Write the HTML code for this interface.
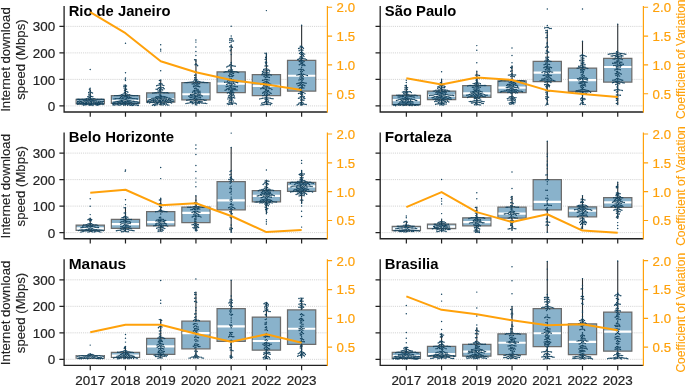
<!DOCTYPE html>
<html><head><meta charset="utf-8"><title>chart</title>
<style>
html,body{margin:0;padding:0;background:#fff;}
body{width:685px;height:385px;overflow:hidden;font-family:"Liberation Sans",sans-serif;}
svg{display:block;will-change:transform;}
</style></head><body>
<svg width="685" height="385" viewBox="0 0 685 385" font-family="Liberation Sans, sans-serif">
<rect width="685" height="385" fill="#fff"/>
<g>
<path d="M64.1 105.90H327.4M64.1 79.40H327.4M64.1 52.89H327.4M64.1 26.39H327.4" stroke="#c9c9c9" stroke-width="0.8" stroke-dasharray="1.1 1.0" fill="none"/>
<path d="M76.15 99.35H104.35V103.80H76.15ZM111.38 95.64H139.58V103.40H111.38ZM146.61 92.79H174.81V102.00H146.61ZM181.84 82.62H210.04V99.83H181.84ZM217.07 71.77H245.27V92.68H217.07ZM252.30 74.68H280.50V95.59H252.30ZM287.53 60.39H315.73V91.09H287.53Z" fill="#89b2cb" stroke="#6c6c6c" stroke-width="1.25"/>
<path d="M90.25 99.35V89.24M90.25 103.80V105.39M125.48 95.64V85.00M125.48 103.40V105.39M160.71 92.79V79.97M160.71 102.00V105.39M195.94 82.62V59.59M195.94 99.83V104.86M231.17 71.77V45.03M231.17 92.68V104.59M266.40 74.68V53.24M266.40 95.59V105.12M301.63 60.39V25.18M301.63 91.09V105.25" stroke="#2a2f33" stroke-width="1.1" fill="none"/>
<path d="M76.65 101.79H103.85M111.88 100.75H139.08M147.11 99.30H174.31M182.34 94.27H209.54M217.57 83.68H244.77M252.80 85.80H280.00M288.03 75.74H315.23" stroke="#fff" stroke-width="2.2" fill="none"/>
<path d="M90.2 69.4h0M90.2 88.2h0M89.4 89.2h0M90.2 90.5h0M90.0 91.8h0M91.2 92.4h0M88.7 92.4h0M92.5 93.0h0M90.2 94.0h0M88.9 94.3h0M90.2 95.8h0M88.9 96.0h0M91.4 96.5h0M92.8 96.7h0M87.8 96.8h0M90.2 97.3h0M89.0 97.8h0M90.7 98.6h0M92.0 98.6h0M88.0 98.7h0M93.4 98.8h0M86.6 98.8h0M94.8 98.8h0M85.2 98.9h0M89.4 99.1h0M96.1 99.2h0M83.9 99.3h0M97.5 99.3h0M82.6 99.3h0M98.9 99.3h0M81.2 99.3h0M100.2 99.3h0M79.8 99.3h0M101.6 99.3h0M78.4 99.3h0M103.0 99.3h0M77.1 99.3h0M103.4 99.4h0M89.3 99.4h0M89.8 99.5h0M79.2 99.7h0M79.7 99.7h0M86.1 99.7h0M91.3 99.8h0M92.7 99.9h0M84.0 99.9h0M88.4 100.1h0M90.1 100.3h0M87.1 100.4h0M93.9 100.6h0M85.7 100.7h0M95.2 100.8h0M84.4 100.9h0M96.6 100.9h0M91.9 101.0h0M83.0 101.0h0M98.0 101.1h0M81.6 101.1h0M99.3 101.1h0M89.1 101.3h0M80.3 101.3h0M100.7 101.4h0M78.9 101.4h0M102.1 101.4h0M77.5 101.4h0M103.5 101.5h0M99.0 101.5h0M90.6 101.6h0M87.8 101.6h0M81.2 101.6h0M93.1 101.7h0M77.6 101.7h0M102.2 101.8h0M91.0 101.8h0M86.4 101.9h0M94.4 101.9h0M85.1 102.1h0M95.8 102.2h0M91.7 102.4h0M83.7 102.4h0M97.1 102.5h0M82.3 102.5h0M98.5 102.5h0M89.9 102.7h0M81.0 102.7h0M88.5 102.8h0M99.8 102.8h0M79.6 102.8h0M101.2 102.8h0M78.2 102.9h0M93.4 103.0h0M102.6 103.0h0M76.9 103.0h0M80.8 103.0h0M87.1 103.0h0M91.4 103.2h0M77.7 103.2h0M94.9 103.2h0M85.8 103.2h0M91.0 103.2h0M103.0 103.2h0M99.9 103.3h0M95.5 103.4h0M83.9 103.4h0M86.7 103.4h0M91.0 103.5h0M96.2 103.6h0M81.4 103.6h0M84.5 103.7h0M83.1 103.8h0M92.3 103.9h0M97.6 103.9h0M81.7 103.9h0M99.0 103.9h0M97.5 103.9h0M89.2 103.9h0M91.1 103.9h0M80.4 103.9h0M100.5 104.0h0M97.7 104.0h0M79.0 104.0h0M85.7 104.0h0M82.9 104.1h0M101.8 104.1h0M77.7 104.2h0M87.9 104.3h0M93.8 104.3h0M103.2 104.3h0M86.5 104.4h0M98.5 104.4h0M103.1 104.4h0M99.6 104.5h0M98.4 104.5h0M95.2 104.6h0M98.7 104.6h0M96.6 104.7h0M90.3 104.7h0M83.0 104.7h0M90.7 104.8h0M85.3 104.8h0M86.4 104.8h0M91.7 105.1h0M96.4 105.1h0M83.9 105.2h0M89.1 105.3h0M97.8 105.3h0M93.0 105.4h0M125.5 43.2h0M125.5 72.8h0M125.5 77.9h0M125.2 79.2h0M125.5 80.5h0M125.5 85.0h0M124.1 85.3h0M126.5 85.9h0M125.2 86.4h0M123.8 86.6h0M125.5 87.8h0M124.1 88.1h0M125.2 89.1h0M126.6 89.3h0M124.5 90.3h0M125.5 91.4h0M126.9 91.5h0M124.4 92.2h0M127.9 92.3h0M125.5 93.6h0M124.1 93.6h0M126.8 94.0h0M122.9 94.2h0M128.0 94.6h0M129.4 94.6h0M121.6 94.6h0M125.1 94.8h0M130.7 95.1h0M120.3 95.2h0M126.3 95.4h0M123.8 95.4h0M119.0 95.5h0M132.0 95.5h0M133.3 95.6h0M117.6 95.6h0M134.7 95.6h0M116.2 95.6h0M136.1 95.6h0M122.5 95.6h0M114.8 95.6h0M137.5 95.6h0M127.5 96.0h0M128.9 96.0h0M125.2 96.2h0M121.4 96.4h0M126.4 96.9h0M124.1 97.0h0M122.7 97.1h0M129.6 97.2h0M127.7 97.4h0M120.6 97.5h0M130.9 97.6h0M125.5 98.1h0M123.8 98.3h0M128.6 98.3h0M122.3 98.4h0M119.5 98.4h0M126.8 98.5h0M132.0 98.5h0M130.0 98.6h0M118.1 98.6h0M133.3 98.6h0M116.8 98.6h0M134.7 98.6h0M115.4 98.8h0M136.1 98.8h0M121.0 98.9h0M114.0 99.0h0M137.4 99.0h0M125.5 99.6h0M124.1 99.8h0M126.8 99.9h0M122.8 100.2h0M128.1 100.2h0M121.5 100.5h0M129.4 100.7h0M130.8 100.7h0M120.1 100.8h0M125.5 101.2h0M124.1 101.2h0M132.1 101.2h0M127.2 101.2h0M118.8 101.2h0M133.5 101.3h0M117.5 101.4h0M122.4 101.5h0M134.8 101.5h0M116.1 101.5h0M136.2 101.6h0M128.4 101.8h0M121.1 101.8h0M130.0 102.0h0M114.8 102.0h0M137.5 102.0h0M113.4 102.1h0M138.9 102.2h0M119.8 102.2h0M126.2 102.3h0M124.9 102.4h0M123.5 102.4h0M131.2 102.5h0M118.4 102.6h0M127.4 102.9h0M122.3 103.0h0M129.0 103.0h0M132.5 103.1h0M120.9 103.2h0M117.2 103.2h0M133.9 103.2h0M115.8 103.2h0M135.2 103.2h0M114.5 103.3h0M136.6 103.4h0M113.1 103.5h0M138.0 103.5h0M125.5 103.6h0M124.2 103.8h0M130.1 103.8h0M119.7 103.8h0M112.7 103.8h0M121.0 103.9h0M128.8 103.9h0M118.3 104.0h0M128.2 104.1h0M126.8 104.1h0M122.9 104.2h0M131.5 104.2h0M125.8 104.3h0M133.0 104.3h0M113.9 104.4h0M121.6 104.6h0M117.2 104.7h0M134.3 104.7h0M115.8 104.8h0M125.1 104.8h0M129.3 104.9h0M135.7 105.0h0M114.4 105.0h0M137.0 105.0h0M113.1 105.0h0M120.3 105.1h0M118.9 105.2h0M138.4 105.2h0M123.8 105.3h0M127.5 105.3h0M130.6 105.3h0M138.4 105.3h0M133.2 105.3h0M138.0 105.4h0M132.1 105.4h0M160.7 44.8h0M160.7 49.3h0M160.7 50.9h0M160.7 70.7h0M160.7 80.0h0M159.4 80.5h0M160.7 83.5h0M159.3 83.5h0M162.0 83.9h0M160.7 85.0h0M159.3 85.0h0M162.7 85.1h0M158.0 85.3h0M163.9 85.6h0M156.7 85.8h0M160.7 87.0h0M159.4 87.4h0M162.0 87.6h0M163.3 87.8h0M158.3 88.2h0M160.5 88.4h0M164.2 88.8h0M161.7 89.1h0M159.5 89.3h0M157.5 89.3h0M156.1 89.3h0M162.7 89.9h0M160.7 90.3h0M159.4 90.7h0M158.0 90.9h0M160.7 91.9h0M159.3 92.0h0M162.0 92.2h0M158.1 92.6h0M163.3 92.7h0M164.7 92.7h0M156.7 92.7h0M166.1 92.8h0M155.3 92.8h0M167.4 92.8h0M154.0 93.0h0M168.8 93.1h0M152.6 93.1h0M160.7 93.9h0M159.4 94.1h0M160.7 95.4h0M159.5 96.0h0M161.7 96.3h0M163.1 96.5h0M158.2 96.6h0M164.5 96.6h0M156.9 96.8h0M165.8 96.9h0M160.6 97.0h0M155.6 97.3h0M167.1 97.4h0M159.3 97.6h0M161.6 97.9h0M163.0 97.9h0M158.0 98.0h0M164.4 98.0h0M154.5 98.1h0M168.3 98.1h0M156.7 98.2h0M153.1 98.3h0M166.0 98.3h0M169.6 98.3h0M160.4 98.5h0M151.8 98.7h0M170.9 98.7h0M159.1 99.0h0M155.6 99.0h0M161.9 99.2h0M163.3 99.3h0M157.7 99.3h0M164.9 99.3h0M166.8 99.4h0M153.9 99.4h0M168.5 99.5h0M150.7 99.5h0M172.0 99.5h0M169.9 99.7h0M149.4 99.7h0M160.7 99.9h0M152.7 99.9h0M173.3 99.9h0M156.6 100.1h0M148.1 100.2h0M165.5 100.2h0M155.0 100.2h0M159.4 100.3h0M165.7 100.3h0M160.4 100.3h0M162.4 100.5h0M163.8 100.5h0M167.4 100.6h0M158.1 100.7h0M169.0 100.7h0M151.6 100.7h0M170.6 100.8h0M153.7 100.9h0M150.3 101.1h0M160.7 101.2h0M155.9 101.3h0M171.9 101.3h0M148.9 101.4h0M164.9 101.4h0M166.3 101.6h0M173.2 101.6h0M147.6 101.6h0M159.5 101.8h0M161.9 102.0h0M163.2 102.1h0M158.2 102.2h0M154.9 102.2h0M167.5 102.2h0M153.6 102.3h0M168.9 102.3h0M156.8 102.4h0M152.2 102.4h0M170.3 102.4h0M150.8 102.4h0M147.5 102.5h0M168.6 102.5h0M160.7 102.8h0M164.4 102.9h0M165.8 102.9h0M171.6 102.9h0M149.5 102.9h0M159.1 103.1h0M161.9 103.4h0M157.6 103.4h0M156.1 103.5h0M163.3 103.8h0M154.8 103.9h0M166.6 103.9h0M160.6 104.1h0M164.5 104.3h0M153.5 104.4h0M159.3 104.6h0M157.2 104.7h0M161.8 104.8h0M155.8 104.9h0M167.6 104.9h0M165.7 105.1h0M168.9 105.1h0M163.1 105.1h0M152.4 105.2h0M154.5 105.4h0M195.9 40.0h0M195.9 42.1h0M195.9 46.9h0M195.9 51.4h0M195.9 55.4h0M195.9 59.6h0M194.6 59.8h0M195.9 61.0h0M195.9 63.7h0M195.1 64.8h0M196.8 64.8h0M197.7 65.7h0M195.9 71.7h0M194.6 72.1h0M195.9 74.9h0M194.6 75.3h0M195.9 77.3h0M194.6 77.6h0M195.9 78.9h0M194.6 79.3h0M197.0 79.7h0M195.8 80.3h0M194.1 80.6h0M196.8 81.2h0M198.2 81.2h0M195.4 81.6h0M193.2 81.6h0M199.5 81.7h0M191.9 81.9h0M200.8 81.9h0M190.5 82.1h0M202.2 82.2h0M189.1 82.2h0M203.5 82.3h0M197.4 82.4h0M187.8 82.4h0M194.3 82.5h0M204.9 82.5h0M186.4 82.6h0M206.3 82.6h0M185.0 82.6h0M207.7 82.6h0M195.9 83.3h0M198.2 83.5h0M193.5 83.6h0M199.6 83.7h0M192.2 83.9h0M194.8 84.1h0M196.8 84.3h0M198.0 85.0h0M193.9 85.1h0M195.9 85.4h0M197.0 86.2h0M194.9 86.2h0M198.3 86.5h0M193.5 86.7h0M199.7 86.8h0M195.9 87.9h0M194.7 88.4h0M196.8 88.9h0M198.1 89.4h0M195.9 90.1h0M194.6 90.4h0M197.1 90.8h0M198.5 91.0h0M193.4 91.0h0M199.9 91.2h0M195.9 91.9h0M194.6 92.0h0M197.6 92.1h0M192.6 92.2h0M198.9 92.4h0M200.2 92.9h0M195.9 93.5h0M194.6 93.7h0M197.2 94.0h0M198.6 94.0h0M193.3 94.3h0M192.0 94.3h0M199.9 94.4h0M190.6 94.5h0M195.9 95.1h0M194.6 95.2h0M197.9 95.2h0M201.0 95.2h0M192.9 95.6h0M199.2 95.6h0M191.5 95.6h0M190.2 95.8h0M202.2 96.0h0M196.8 96.2h0M188.9 96.2h0M195.4 96.4h0M194.2 97.0h0M197.9 97.0h0M192.8 97.0h0M199.2 97.2h0M191.4 97.2h0M200.6 97.3h0M190.1 97.4h0M195.9 97.7h0M194.7 98.3h0M196.5 98.9h0M197.9 98.9h0M193.6 99.0h0M199.2 99.3h0M192.2 99.3h0M200.6 99.3h0M190.8 99.5h0M195.3 99.6h0M201.9 99.6h0M189.5 99.7h0M203.3 99.7h0M188.1 99.9h0M197.1 100.1h0M204.6 100.2h0M186.8 100.2h0M206.0 100.2h0M194.4 100.6h0M195.9 100.9h0M198.1 101.1h0M193.1 101.1h0M199.4 101.2h0M191.7 101.2h0M200.8 101.3h0M190.4 101.4h0M202.1 101.8h0M195.6 102.2h0M197.0 102.2h0M194.2 102.2h0M198.7 102.3h0M192.6 102.4h0M200.0 102.4h0M191.2 102.5h0M189.9 102.7h0M201.3 102.9h0M202.7 103.1h0M188.6 103.1h0M204.0 103.2h0M187.2 103.2h0M205.4 103.3h0M197.7 103.3h0M195.9 103.5h0M193.8 103.5h0M199.2 103.5h0M185.9 103.6h0M206.8 103.6h0M192.3 103.7h0M195.4 104.7h0M196.8 104.9h0M231.2 26.2h0M231.2 36.0h0M231.2 38.3h0M229.9 38.8h0M232.4 38.9h0M231.2 40.1h0M229.8 40.3h0M232.1 41.0h0M233.5 41.0h0M231.2 42.1h0M229.8 42.4h0M231.2 45.0h0M231.2 46.7h0M229.8 46.7h0M232.4 47.2h0M231.2 49.6h0M230.3 50.7h0M231.2 54.6h0M231.2 62.5h0M231.2 63.9h0M230.0 64.6h0M231.2 65.5h0M232.5 65.7h0M229.3 65.7h0M233.9 66.0h0M228.0 66.2h0M235.2 66.3h0M230.9 66.9h0M226.8 66.9h0M231.3 68.2h0M231.2 69.7h0M229.8 69.9h0M232.5 70.0h0M228.5 70.3h0M230.7 70.9h0M232.0 71.5h0M229.5 71.6h0M233.3 71.7h0M228.2 71.7h0M234.7 71.7h0M226.8 71.7h0M236.1 71.8h0M225.4 71.8h0M237.4 72.2h0M224.1 72.2h0M231.0 72.5h0M238.7 72.6h0M232.3 72.9h0M229.9 73.3h0M233.5 73.5h0M231.2 74.5h0M229.8 74.8h0M232.2 75.3h0M233.6 75.6h0M228.8 75.7h0M231.2 76.4h0M232.6 76.6h0M229.8 76.7h0M231.2 78.8h0M229.8 78.9h0M232.1 79.8h0M233.4 79.9h0M230.7 80.1h0M229.3 80.1h0M228.0 80.8h0M232.6 81.1h0M233.9 81.2h0M231.2 81.9h0M229.8 81.9h0M227.4 82.0h0M235.1 82.0h0M226.1 82.1h0M236.5 82.2h0M224.7 82.2h0M233.1 82.3h0M228.6 82.7h0M237.7 82.7h0M231.2 83.4h0M229.8 83.4h0M233.7 83.5h0M227.9 83.8h0M232.4 84.0h0M234.9 84.2h0M226.7 84.5h0M231.2 84.9h0M229.8 85.1h0M232.0 86.0h0M233.4 86.1h0M228.9 86.1h0M230.6 86.2h0M234.7 86.3h0M227.5 86.3h0M236.0 86.7h0M226.2 86.8h0M237.4 86.8h0M231.2 87.5h0M229.8 87.8h0M232.4 88.1h0M233.8 88.2h0M228.5 88.3h0M235.1 88.5h0M227.2 88.7h0M231.2 88.9h0M229.8 89.2h0M232.9 89.4h0M228.5 89.7h0M234.3 89.7h0M235.6 89.7h0M226.4 89.8h0M237.0 90.0h0M231.7 90.2h0M225.1 90.2h0M230.4 90.8h0M232.9 90.9h0M231.4 91.7h0M230.0 92.0h0M232.6 92.3h0M228.7 92.4h0M233.9 92.7h0M227.4 92.9h0M231.2 93.1h0M229.8 93.4h0M232.2 94.0h0M233.5 94.2h0M230.9 94.5h0M229.7 95.3h0M231.7 95.6h0M233.0 95.6h0M228.5 95.9h0M234.4 96.0h0M230.8 96.7h0M232.1 97.2h0M229.6 97.3h0M233.5 97.4h0M228.3 97.6h0M234.7 98.0h0M231.2 98.3h0M229.8 98.7h0M232.4 98.9h0M227.9 98.9h0M231.2 99.7h0M229.9 100.2h0M231.9 100.8h0M233.3 101.1h0M229.1 101.3h0M231.2 102.5h0M229.8 102.8h0M232.5 102.9h0M233.9 103.0h0M228.5 103.1h0M235.2 103.3h0M227.3 103.7h0M231.2 103.9h0M236.4 104.0h0M229.8 104.2h0M232.5 104.3h0M228.5 104.6h0M266.4 10.6h0M266.4 53.2h0M265.0 53.3h0M266.4 54.7h0M266.4 56.3h0M265.6 57.5h0M266.4 58.7h0M265.2 59.5h0M266.4 61.4h0M265.4 62.2h0M266.7 62.7h0M265.8 63.7h0M266.4 65.5h0M265.1 65.9h0M267.7 66.0h0M266.4 68.8h0M265.0 68.9h0M267.7 69.1h0M263.7 69.4h0M268.8 70.0h0M266.2 70.1h0M267.5 70.7h0M265.1 70.9h0M263.8 70.9h0M269.6 71.0h0M262.5 71.4h0M266.4 72.7h0M265.0 72.7h0M267.8 72.7h0M263.6 72.8h0M269.1 73.0h0M262.4 73.3h0M266.0 74.0h0M267.3 74.1h0M264.6 74.3h0M268.6 74.7h0M263.3 74.7h0M270.0 74.8h0M261.9 74.8h0M271.3 75.1h0M266.4 75.5h0M265.0 75.7h0M267.7 75.9h0M264.0 76.6h0M266.4 76.9h0M268.0 77.2h0M269.4 77.4h0M265.3 77.8h0M266.4 79.4h0M265.0 79.4h0M267.7 79.8h0M263.8 80.1h0M269.1 80.1h0M262.5 80.3h0M266.4 81.2h0M265.1 81.6h0M267.6 81.9h0M264.0 82.5h0M266.4 82.7h0M268.6 82.8h0M262.9 83.2h0M265.3 83.5h0M267.1 83.9h0M269.3 83.9h0M264.1 84.1h0M270.7 84.3h0M262.2 84.4h0M260.9 84.5h0M266.3 84.9h0M267.7 85.1h0M264.9 85.2h0M269.7 85.2h0M263.6 85.6h0M266.4 86.3h0M265.1 86.6h0M267.7 86.8h0M269.1 86.9h0M263.8 87.0h0M262.4 87.3h0M266.3 87.6h0M265.0 88.1h0M268.1 88.1h0M263.7 88.4h0M269.4 88.6h0M262.1 88.6h0M270.8 88.6h0M260.8 88.8h0M266.4 89.0h0M271.9 89.4h0M265.3 89.8h0M267.0 90.3h0M268.4 90.5h0M265.9 91.0h0M267.4 91.5h0M264.7 91.7h0M268.9 91.8h0M263.4 92.2h0M266.4 92.6h0M270.0 92.7h0M265.1 93.0h0M267.6 93.2h0M262.7 93.3h0M271.1 93.4h0M266.4 94.2h0M264.5 94.2h0M267.9 94.6h0M269.3 94.6h0M265.9 95.4h0M264.0 95.5h0M262.7 95.6h0M267.2 95.8h0M266.4 97.3h0M265.1 97.8h0M267.6 98.0h0M269.0 98.0h0M263.8 98.1h0M270.4 98.2h0M262.4 98.2h0M271.7 98.6h0M261.1 98.6h0M266.4 98.7h0M273.0 98.8h0M259.8 99.0h0M265.1 99.3h0M267.4 99.7h0M268.7 100.1h0M266.1 100.3h0M266.9 101.4h0M265.4 101.5h0M268.3 101.6h0M264.5 102.4h0M266.4 102.6h0M269.1 102.7h0M263.1 102.8h0M267.7 103.0h0M270.5 103.0h0M261.8 103.2h0M271.8 103.4h0M266.4 104.2h0M265.0 104.3h0M267.7 104.4h0M269.1 104.6h0M263.7 104.7h0M262.3 104.7h0M270.5 104.7h0M261.0 105.1h0M301.6 25.2h0M301.6 46.2h0M300.3 46.3h0M302.5 47.3h0M301.2 47.6h0M299.9 48.0h0M303.5 48.2h0M298.6 48.4h0M301.6 49.7h0M300.3 50.0h0M302.9 50.3h0M299.1 50.7h0M301.6 51.7h0M300.5 52.4h0M302.7 52.6h0M301.6 53.3h0M299.5 53.4h0M303.4 53.7h0M304.7 54.1h0M300.9 54.5h0M302.3 54.5h0M303.3 55.4h0M301.6 56.1h0M300.3 56.6h0M304.0 56.6h0M302.5 57.1h0M301.3 57.8h0M299.9 57.9h0M302.5 58.5h0M303.9 58.8h0M299.0 58.9h0M305.2 59.0h0M300.7 59.1h0M297.8 59.5h0M306.5 59.6h0M301.6 60.2h0M300.3 60.5h0M302.9 60.7h0M299.2 61.2h0M304.1 61.4h0M301.6 61.8h0M300.3 62.0h0M302.8 62.4h0M301.6 63.2h0M300.5 64.0h0M302.7 64.0h0M304.0 64.5h0M299.3 64.7h0M301.6 65.1h0M302.9 65.5h0M304.9 65.5h0M301.6 67.2h0M301.6 69.3h0M300.3 69.3h0M303.0 69.4h0M298.9 69.6h0M303.9 70.4h0M301.2 70.6h0M302.3 71.4h0M300.6 71.8h0M301.6 72.9h0M300.8 73.9h0M302.1 74.3h0M303.5 74.3h0M299.5 74.5h0M304.8 74.6h0M298.2 74.7h0M306.1 75.1h0M296.9 75.1h0M301.2 75.3h0M307.4 75.4h0M302.6 75.5h0M300.2 76.3h0M301.7 76.6h0M303.4 76.6h0M301.2 77.8h0M302.5 78.0h0M299.8 78.1h0M303.4 79.0h0M301.6 79.1h0M300.4 79.6h0M299.0 79.9h0M302.5 80.1h0M301.5 81.0h0M302.2 82.2h0M300.8 82.5h0M303.4 82.8h0M299.5 82.9h0M304.8 83.0h0M298.2 83.2h0M306.1 83.3h0M301.6 83.6h0M296.9 83.8h0M300.4 84.2h0M302.4 84.7h0M303.7 84.9h0M299.5 85.2h0M301.2 85.4h0M304.8 85.7h0M298.2 85.8h0M302.3 86.3h0M301.3 87.2h0M302.6 87.7h0M300.0 87.8h0M303.9 88.0h0M301.6 88.7h0M299.2 88.8h0M300.7 89.7h0M301.6 91.3h0M300.4 91.8h0M302.5 92.4h0M303.8 92.6h0M301.3 92.9h0M299.9 93.2h0M298.5 93.4h0M305.0 93.4h0M302.2 93.9h0M300.8 94.2h0M302.8 95.1h0M301.6 96.3h0M300.3 96.6h0M302.9 96.8h0M304.3 96.8h0M301.2 97.6h0M299.8 97.9h0M303.5 98.0h0M298.5 98.2h0M304.8 98.5h0M301.6 98.9h0M300.7 99.9h0M302.6 99.9h0M303.9 100.2h0M301.6 102.2h0M300.3 102.5h0M302.9 102.8h0M299.0 103.1h0M301.6 103.6h0M300.3 103.9h0M303.5 104.0h0M304.9 104.2h0M298.3 104.2h0M306.2 104.4h0M302.3 104.8h0M297.1 104.9h0M301.0 105.3h0" stroke="#13435f" stroke-width="1.45" stroke-linecap="round" fill="none"/>
<path d="M64.1 5.90V112.00H327.4" stroke="#222" stroke-width="1.33" fill="none" stroke-linejoin="miter"/>
<path d="M64.1 105.90h-4.7M64.1 79.40h-4.7M64.1 52.89h-4.7M64.1 26.39h-4.7M90.25 112.00v4.7M125.48 112.00v4.7M160.71 112.00v4.7M195.94 112.00v4.7M231.17 112.00v4.7M266.40 112.00v4.7M301.63 112.00v4.7" stroke="#222" stroke-width="1.2" fill="none"/>
<text x="55.2" y="111.00" font-size="13.7" fill="#222" stroke="#222" stroke-width="0.2" text-anchor="end" textLength="7.5" lengthAdjust="spacingAndGlyphs">0</text>
<text x="55.2" y="84.50" font-size="13.7" fill="#222" stroke="#222" stroke-width="0.2" text-anchor="end" textLength="22.4" lengthAdjust="spacingAndGlyphs">100</text>
<text x="55.2" y="57.99" font-size="13.7" fill="#222" stroke="#222" stroke-width="0.2" text-anchor="end" textLength="22.4" lengthAdjust="spacingAndGlyphs">200</text>
<text x="55.2" y="31.49" font-size="13.7" fill="#222" stroke="#222" stroke-width="0.2" text-anchor="end" textLength="22.4" lengthAdjust="spacingAndGlyphs">300</text>
<text transform="translate(10.1 59.55) rotate(-90)" font-size="13.15" fill="#222" stroke="#222" stroke-width="0.15" text-anchor="middle">Internet download</text>
<text transform="translate(25.3 59.55) rotate(-90)" font-size="13.15" fill="#222" stroke="#222" stroke-width="0.15" text-anchor="middle">speed (Mbps)</text>
<text x="68.7" y="15.65" font-size="15.2" font-weight="bold" fill="#000" textLength="101.8" lengthAdjust="spacingAndGlyphs">Rio de Janeiro</text>
<path d="M327.4 5.90V112.50M327.4 93.77h4.7M327.4 64.94h4.7M327.4 36.11h4.7M327.4 7.27h4.7" stroke="#ffa10a" stroke-width="1.2" fill="none"/>
<text x="336.6" y="98.62" font-size="13.7" fill="#ffa10a" stroke="#ffa10a" stroke-width="0.2" textLength="18.4" lengthAdjust="spacingAndGlyphs">0.5</text>
<text x="336.6" y="69.79" font-size="13.7" fill="#ffa10a" stroke="#ffa10a" stroke-width="0.2" textLength="18.4" lengthAdjust="spacingAndGlyphs">1.0</text>
<text x="336.6" y="40.96" font-size="13.7" fill="#ffa10a" stroke="#ffa10a" stroke-width="0.2" textLength="18.4" lengthAdjust="spacingAndGlyphs">1.5</text>
<text x="336.6" y="12.12" font-size="13.7" fill="#ffa10a" stroke="#ffa10a" stroke-width="0.2" textLength="18.4" lengthAdjust="spacingAndGlyphs">2.0</text>
<polyline points="90.25,12.05 125.48,33.20 160.71,61.30 195.94,72.20 231.17,80.00 266.40,84.50 301.63,90.10" stroke="#ffa10a" stroke-width="2" fill="none" stroke-linejoin="round" stroke-linecap="butt"/>
</g>
<g>
<path d="M380.2 105.90H643.4M380.2 79.40H643.4M380.2 52.89H643.4M380.2 26.39H643.4" stroke="#c9c9c9" stroke-width="0.8" stroke-dasharray="1.1 1.0" fill="none"/>
<path d="M392.25 95.33H420.45V104.59H392.25ZM427.48 91.09H455.68V99.56H427.48ZM462.71 85.53H490.91V97.44H462.71ZM497.94 80.77H526.14V92.68H497.94ZM533.17 61.31H561.37V81.56H533.17ZM568.40 68.06H596.60V91.36H568.40ZM603.63 58.27H631.83V82.09H603.63Z" fill="#89b2cb" stroke="#6c6c6c" stroke-width="1.25"/>
<path d="M406.35 95.33V85.27M406.35 104.59V105.65M441.58 91.09V79.18M441.58 99.56V105.12M476.81 85.53V71.24M476.81 97.44V105.12M512.04 80.77V65.95M512.04 92.68V104.33M547.27 61.31V30.21M547.27 81.56V105.12M582.50 68.06V41.33M582.50 91.36V104.59M617.73 58.27V24.12M617.73 82.09V104.59" stroke="#2a2f33" stroke-width="1.1" fill="none"/>
<path d="M392.75 100.09H419.95M427.98 95.59H455.18M463.21 93.47H490.41M498.44 87.65H525.64M533.67 72.56H560.87M568.90 80.08H596.10M604.13 67.00H631.33" stroke="#fff" stroke-width="2.2" fill="none"/>
<path d="M406.3 80.2h0M406.3 82.4h0M406.3 85.3h0M405.1 85.8h0M406.3 87.1h0M405.0 87.6h0M407.6 87.7h0M406.3 88.8h0M405.0 89.2h0M407.4 89.6h0M406.3 91.1h0M405.0 91.2h0M407.6 91.7h0M409.0 91.7h0M403.7 91.7h0M410.3 91.7h0M402.4 92.1h0M406.3 92.5h0M411.4 92.6h0M405.0 92.7h0M407.6 93.0h0M403.7 93.2h0M406.3 94.1h0M405.0 94.3h0M407.6 94.7h0M408.9 94.8h0M403.8 95.0h0M410.3 95.1h0M402.4 95.2h0M411.7 95.3h0M401.0 95.3h0M413.0 95.3h0M399.7 95.3h0M414.4 95.3h0M398.3 95.3h0M415.8 95.3h0M396.9 95.3h0M406.3 95.5h0M417.1 95.7h0M405.1 96.1h0M407.9 96.1h0M409.2 96.3h0M403.4 96.3h0M410.6 96.6h0M402.2 96.8h0M406.7 96.8h0M400.8 96.8h0M411.9 96.8h0M399.4 96.9h0M413.3 97.0h0M398.1 97.0h0M414.6 97.1h0M405.5 97.4h0M407.6 97.9h0M404.3 98.0h0M408.9 98.3h0M402.9 98.4h0M406.3 98.5h0M410.1 98.9h0M401.7 99.0h0M411.5 99.0h0M405.2 99.2h0M407.5 99.2h0M400.4 99.3h0M412.8 99.4h0M399.0 99.4h0M403.9 99.4h0M414.2 99.4h0M408.7 99.8h0M406.3 100.0h0M402.7 100.1h0M397.8 100.1h0M410.7 100.2h0M415.4 100.2h0M401.3 100.4h0M396.5 100.4h0M416.7 100.4h0M405.3 100.9h0M407.3 101.0h0M403.9 101.1h0M408.6 101.3h0M410.0 101.4h0M402.6 101.4h0M411.3 101.6h0M400.9 101.7h0M412.7 101.8h0M406.3 102.1h0M399.6 102.1h0M405.0 102.3h0M407.6 102.5h0M409.0 102.6h0M403.7 102.7h0M402.3 102.8h0M410.4 103.0h0M401.0 103.1h0M411.7 103.1h0M413.1 103.1h0M406.3 103.5h0M405.0 103.7h0M399.7 103.7h0M398.4 103.7h0M408.0 103.8h0M403.6 104.1h0M409.4 104.1h0M402.2 104.2h0M410.7 104.3h0M412.3 104.4h0M400.9 104.6h0M413.6 104.6h0M415.0 104.6h0M397.4 104.6h0M416.4 104.6h0M407.0 104.7h0M396.0 104.7h0M417.8 104.7h0M394.6 104.7h0M419.2 104.7h0M393.2 104.7h0M414.9 104.8h0M416.8 104.8h0M394.8 104.8h0M416.1 104.8h0M417.4 104.9h0M405.6 104.9h0M399.3 105.0h0M418.2 105.0h0M395.9 105.0h0M398.5 105.1h0M408.4 105.1h0M404.3 105.2h0M396.0 105.2h0M394.0 105.2h0M415.6 105.2h0M414.6 105.3h0M409.9 105.3h0M415.0 105.3h0M409.8 105.3h0M400.7 105.3h0M409.7 105.5h0M403.0 105.5h0M411.3 105.6h0M412.7 105.6h0M395.7 105.7h0M441.6 71.8h0M441.6 79.2h0M441.6 82.0h0M440.4 82.8h0M441.6 83.5h0M441.6 84.9h0M440.3 85.3h0M442.6 85.8h0M444.0 85.9h0M439.2 86.1h0M441.4 86.3h0M445.1 86.7h0M438.0 86.8h0M440.2 87.1h0M441.6 87.7h0M443.0 87.7h0M439.1 87.8h0M444.3 87.8h0M437.7 88.2h0M440.6 88.6h0M441.7 89.4h0M443.0 89.7h0M440.0 89.8h0M444.4 89.9h0M438.6 90.0h0M445.7 90.0h0M437.2 90.1h0M447.1 90.2h0M435.9 90.2h0M441.2 90.6h0M448.3 90.9h0M434.7 90.9h0M442.5 91.0h0M439.5 91.0h0M449.6 91.1h0M433.3 91.1h0M443.9 91.2h0M438.1 91.2h0M445.2 91.3h0M436.8 91.8h0M441.6 92.0h0M446.4 92.0h0M442.9 92.3h0M440.3 92.4h0M438.9 92.5h0M444.3 92.6h0M435.9 92.7h0M437.6 93.0h0M445.6 93.0h0M441.6 93.4h0M442.9 93.7h0M440.3 93.9h0M439.0 94.0h0M444.1 94.3h0M445.5 94.4h0M437.7 94.5h0M436.3 94.5h0M446.9 94.5h0M434.9 94.6h0M441.6 94.9h0M448.2 94.9h0M442.9 95.1h0M433.6 95.1h0M449.6 95.1h0M439.8 95.2h0M432.2 95.2h0M450.9 95.2h0M430.9 95.2h0M452.3 95.3h0M429.5 95.4h0M453.7 95.4h0M444.1 95.7h0M440.9 96.0h0M438.7 96.0h0M445.5 96.1h0M442.1 96.5h0M437.4 96.5h0M446.7 96.6h0M436.1 96.7h0M448.1 96.8h0M434.7 96.8h0M439.8 96.9h0M443.3 97.1h0M449.4 97.2h0M433.4 97.3h0M444.7 97.3h0M441.1 97.3h0M438.6 97.6h0M450.7 97.7h0M432.1 97.7h0M446.0 97.7h0M437.0 97.8h0M442.2 98.2h0M440.1 98.2h0M443.5 98.5h0M447.2 98.5h0M444.9 98.7h0M435.9 98.7h0M438.0 98.8h0M448.5 98.8h0M434.6 99.0h0M441.2 99.1h0M449.8 99.2h0M433.2 99.2h0M451.2 99.2h0M439.3 99.4h0M442.5 99.6h0M445.9 99.6h0M437.0 99.7h0M444.0 99.7h0M447.2 100.1h0M435.7 100.1h0M441.5 100.5h0M440.1 100.7h0M438.7 100.7h0M443.1 100.8h0M444.5 101.0h0M437.4 101.1h0M445.8 101.3h0M447.6 101.3h0M436.1 101.5h0M434.7 101.6h0M441.6 101.9h0M439.6 101.9h0M448.8 102.0h0M442.9 102.3h0M444.9 102.3h0M438.3 102.4h0M446.4 102.6h0M440.8 103.0h0M442.1 103.5h0M443.5 103.5h0M439.7 103.8h0M438.3 103.8h0M444.8 103.9h0M437.0 104.0h0M446.2 104.1h0M435.6 104.3h0M441.1 104.4h0M442.3 104.9h0M443.7 105.0h0M439.9 105.1h0M476.8 45.6h0M476.8 50.3h0M476.8 62.8h0M476.8 71.2h0M476.8 74.8h0M475.5 75.1h0M478.1 75.2h0M479.5 75.5h0M476.8 76.8h0M476.5 78.1h0M477.8 78.2h0M475.1 78.4h0M479.2 78.5h0M477.0 79.3h0M476.2 80.4h0M477.5 80.9h0M476.6 82.0h0M477.7 82.8h0M475.7 83.0h0M479.1 83.1h0M474.5 83.5h0M480.4 83.6h0M473.1 83.6h0M476.8 83.8h0M478.2 84.1h0M475.8 84.8h0M477.2 85.2h0M478.9 85.2h0M474.6 85.3h0M480.3 85.3h0M473.2 85.4h0M481.7 85.4h0M471.8 85.5h0M483.0 85.5h0M470.4 85.5h0M484.4 85.5h0M469.1 85.5h0M485.8 85.5h0M467.8 86.0h0M476.3 86.3h0M477.7 86.5h0M475.2 87.0h0M478.9 87.0h0M473.8 87.2h0M480.3 87.2h0M472.4 87.3h0M476.8 87.7h0M478.0 88.3h0M476.1 88.9h0M474.7 88.9h0M479.2 89.1h0M473.4 89.1h0M477.1 89.8h0M475.8 90.4h0M478.3 90.5h0M474.5 90.8h0M479.6 90.9h0M476.9 91.2h0M473.2 91.4h0M480.8 91.4h0M475.7 91.8h0M478.4 91.9h0M472.0 91.9h0M482.1 92.0h0M470.6 92.1h0M474.3 92.2h0M477.1 92.6h0M479.3 92.9h0M473.2 92.9h0M475.9 93.3h0M480.6 93.4h0M471.9 93.4h0M478.1 93.5h0M474.6 93.6h0M481.9 93.8h0M470.7 94.1h0M483.2 94.1h0M476.8 94.5h0M479.0 94.5h0M473.6 94.5h0M469.4 94.5h0M475.5 94.7h0M484.5 94.7h0M480.3 95.0h0M472.3 95.0h0M468.1 95.0h0M481.7 95.2h0M485.8 95.2h0M466.8 95.2h0M477.9 95.3h0M487.1 95.3h0M471.0 95.5h0M474.6 95.7h0M476.6 95.8h0M479.0 96.1h0M473.3 96.1h0M480.8 96.3h0M482.4 96.3h0M471.9 96.5h0M470.2 96.6h0M483.7 96.6h0M477.7 96.7h0M475.6 96.8h0M468.9 96.8h0M485.1 96.8h0M474.3 97.2h0M479.6 97.3h0M467.6 97.4h0M476.8 97.7h0M478.1 98.2h0M475.5 98.2h0M479.3 98.7h0M474.3 98.8h0M480.7 99.1h0M476.8 99.4h0M476.0 100.4h0M477.4 100.6h0M478.8 100.6h0M474.6 100.7h0M480.1 100.7h0M473.3 100.9h0M481.4 101.2h0M472.0 101.4h0M482.8 101.4h0M470.6 101.4h0M484.1 101.6h0M469.2 101.6h0M476.8 101.9h0M475.5 102.2h0M478.1 102.3h0M479.5 102.4h0M474.1 102.5h0M480.8 102.6h0M472.8 102.9h0M471.5 103.0h0M476.8 103.4h0M481.9 103.4h0M483.3 103.5h0M475.5 103.8h0M477.5 104.6h0M478.9 104.7h0M474.5 104.7h0M480.2 104.9h0M476.2 105.1h0M512.0 47.9h0M512.0 55.4h0M512.0 62.8h0M512.0 65.9h0M512.0 67.3h0M510.7 67.4h0M511.6 68.6h0M512.0 70.7h0M510.7 71.2h0M512.0 73.5h0M511.1 74.5h0M512.8 74.6h0M514.2 74.9h0M509.8 74.9h0M515.6 75.0h0M508.4 75.1h0M511.9 75.7h0M513.1 76.3h0M510.8 76.4h0M514.4 76.7h0M512.0 79.1h0M510.7 79.5h0M512.0 80.4h0M513.4 80.5h0M509.9 80.6h0M514.8 80.6h0M508.5 80.7h0M516.2 80.7h0M507.1 80.7h0M517.5 80.7h0M505.7 80.8h0M518.9 80.8h0M504.4 80.8h0M520.3 80.8h0M503.0 80.8h0M521.7 80.8h0M501.6 80.8h0M523.0 80.8h0M500.3 80.9h0M524.3 81.3h0M511.0 81.4h0M499.0 81.5h0M520.5 81.5h0M512.0 82.3h0M513.4 82.4h0M510.5 82.6h0M514.8 82.7h0M509.2 82.8h0M511.6 83.6h0M515.7 83.7h0M512.9 83.8h0M510.3 84.2h0M514.2 84.3h0M509.0 84.4h0M507.6 84.4h0M512.0 85.0h0M515.3 85.2h0M516.7 85.2h0M513.4 85.3h0M506.7 85.4h0M510.8 85.6h0M509.4 85.8h0M508.1 86.1h0M517.6 86.2h0M512.0 86.5h0M513.4 86.7h0M510.3 86.9h0M514.7 87.2h0M509.0 87.3h0M516.0 87.5h0M507.6 87.5h0M517.4 87.6h0M506.3 87.6h0M511.5 87.7h0M518.7 87.9h0M512.8 88.0h0M510.7 88.8h0M512.0 89.2h0M513.4 89.3h0M509.4 89.3h0M514.8 89.4h0M508.0 89.4h0M516.2 89.5h0M506.7 89.9h0M511.3 90.4h0M517.2 90.4h0M512.7 90.6h0M514.1 90.8h0M510.0 90.8h0M508.7 90.9h0M515.4 90.9h0M505.8 90.9h0M518.5 91.0h0M504.5 91.0h0M519.8 91.1h0M507.3 91.1h0M503.1 91.2h0M521.2 91.3h0M501.7 91.4h0M511.9 91.7h0M516.5 91.7h0M522.5 91.7h0M513.3 91.9h0M500.5 91.9h0M510.6 92.2h0M514.6 92.3h0M509.3 92.3h0M507.9 92.6h0M517.4 92.8h0M512.2 93.0h0M515.7 93.1h0M511.0 93.6h0M512.0 95.1h0M512.0 96.5h0M510.7 96.6h0M513.4 96.9h0M509.4 97.0h0M514.6 97.6h0M516.0 97.6h0M511.5 97.7h0M508.5 98.1h0M512.7 98.2h0M510.2 98.3h0M507.3 98.6h0M514.0 98.8h0M511.7 99.1h0M515.3 99.2h0M513.0 99.8h0M510.7 100.0h0M509.3 100.1h0M507.9 100.1h0M514.2 100.4h0M511.9 100.6h0M515.4 101.0h0M512.8 101.7h0M511.7 102.5h0M510.3 102.5h0M513.6 102.7h0M515.0 102.7h0M509.1 103.1h0M512.5 103.5h0M511.2 103.9h0M513.8 104.1h0M509.9 104.3h0M547.3 9.0h0M547.3 25.4h0M547.3 27.5h0M545.9 27.6h0M548.6 27.8h0M544.6 27.9h0M549.8 28.4h0M551.2 28.5h0M547.3 30.2h0M545.9 30.5h0M547.3 32.6h0M545.9 32.8h0M547.3 35.3h0M547.3 37.3h0M546.0 37.8h0M547.3 42.4h0M546.9 43.7h0M547.3 45.6h0M546.8 46.8h0M548.2 46.9h0M545.5 47.2h0M547.3 50.0h0M546.4 51.0h0M547.7 51.4h0M548.8 52.2h0M547.3 53.1h0M545.9 53.3h0M547.3 57.1h0M545.9 57.2h0M548.6 57.3h0M547.3 58.6h0M546.0 59.0h0M548.3 59.4h0M547.2 60.1h0M545.9 60.6h0M548.3 60.9h0M549.7 61.0h0M544.6 61.1h0M551.0 61.4h0M547.0 61.5h0M547.3 62.8h0M545.9 63.0h0M546.8 64.1h0M548.1 64.3h0M545.4 64.3h0M549.5 64.5h0M544.1 64.8h0M547.3 65.5h0M546.2 66.4h0M547.5 66.8h0M548.9 66.9h0M545.0 67.0h0M550.2 67.2h0M546.5 67.7h0M543.9 67.8h0M551.5 67.8h0M547.8 68.3h0M549.2 68.5h0M546.7 69.1h0M545.4 69.4h0M548.2 69.6h0M549.6 69.7h0M547.3 70.9h0M545.9 71.2h0M548.6 71.3h0M550.0 71.3h0M544.6 71.6h0M543.2 71.6h0M551.2 72.0h0M552.6 72.1h0M547.3 72.4h0M542.1 72.4h0M549.2 72.5h0M545.9 72.6h0M544.6 73.1h0M547.9 73.5h0M547.2 74.7h0M548.6 74.7h0M545.9 75.0h0M549.9 75.2h0M544.5 75.3h0M551.2 75.4h0M543.2 75.5h0M547.3 76.0h0M548.6 76.3h0M546.1 76.7h0M549.7 77.1h0M547.3 77.8h0M548.6 78.0h0M545.9 78.1h0M544.6 78.3h0M550.3 78.3h0M543.3 78.9h0M551.5 79.0h0M542.0 79.0h0M547.3 79.5h0M546.0 79.9h0M548.6 80.0h0M549.9 80.0h0M544.6 80.0h0M552.3 80.1h0M543.0 80.2h0M541.6 80.3h0M553.6 80.5h0M540.2 80.6h0M551.1 80.7h0M547.3 80.9h0M554.9 81.0h0M546.2 81.7h0M548.3 81.7h0M549.7 81.8h0M545.0 82.3h0M550.9 82.5h0M547.3 84.1h0M545.9 84.4h0M548.6 84.4h0M544.6 84.8h0M549.6 85.4h0M546.9 85.5h0M548.3 85.8h0M546.0 86.5h0M549.3 86.7h0M547.3 86.9h0M546.5 88.0h0M547.3 90.0h0M545.9 90.3h0M548.3 91.0h0M549.6 91.1h0M547.2 91.8h0M545.9 92.3h0M547.3 93.2h0M546.2 94.1h0M547.3 94.9h0M547.3 96.8h0M545.9 96.8h0M548.6 97.2h0M547.3 98.3h0M545.9 98.5h0M546.7 99.6h0M547.6 100.6h0M547.3 102.8h0M546.6 104.0h0M548.0 104.2h0M545.8 105.1h0M582.5 9.0h0M582.5 41.3h0M582.5 54.5h0M581.3 55.2h0M583.5 55.4h0M584.8 55.8h0M580.2 56.0h0M582.5 56.4h0M586.1 56.4h0M582.5 57.8h0M581.1 58.0h0M583.8 58.3h0M582.5 59.9h0M581.1 60.0h0M583.8 60.2h0M579.8 60.5h0M582.5 61.9h0M581.1 61.9h0M583.8 62.2h0M582.5 63.3h0M581.2 63.8h0M583.7 63.9h0M585.0 64.4h0M582.5 65.2h0M581.1 65.3h0M583.5 66.1h0M584.9 66.1h0M580.1 66.2h0M578.7 66.3h0M582.3 66.6h0M583.8 67.4h0M581.2 67.5h0M579.9 67.6h0M585.2 67.7h0M582.5 68.0h0M578.6 68.0h0M586.5 68.1h0M577.2 68.2h0M587.8 68.4h0M581.9 69.2h0M583.3 69.4h0M580.6 69.7h0M584.6 69.7h0M582.5 70.6h0M581.2 71.0h0M583.5 71.5h0M582.3 72.1h0M580.9 72.4h0M583.4 73.0h0M582.5 74.3h0M581.3 74.9h0M583.1 75.5h0M584.4 76.0h0M582.5 76.8h0M581.2 77.1h0M583.6 77.6h0M585.0 77.7h0M579.9 77.7h0M586.3 78.0h0M582.5 78.4h0M581.1 78.5h0M578.9 78.6h0M587.5 78.7h0M577.5 78.8h0M583.7 79.1h0M585.0 79.2h0M580.2 79.5h0M582.4 79.8h0M586.3 79.8h0M578.9 80.0h0M587.6 80.1h0M583.2 80.9h0M581.9 81.5h0M584.3 81.7h0M580.6 82.0h0M585.7 82.0h0M579.3 82.1h0M587.0 82.2h0M583.0 82.3h0M581.7 83.0h0M584.7 83.0h0M580.5 83.5h0M579.1 83.6h0M582.5 84.1h0M583.9 84.3h0M585.2 84.3h0M581.6 85.2h0M583.0 85.5h0M584.3 85.6h0M580.5 85.9h0M585.6 86.0h0M582.2 86.7h0M583.4 87.5h0M581.1 87.5h0M582.3 88.4h0M583.1 89.5h0M581.7 89.7h0M584.4 89.7h0M580.4 90.0h0M585.8 90.0h0M579.0 90.2h0M587.1 90.4h0M577.7 90.6h0M588.5 90.6h0M576.3 90.7h0M582.5 91.1h0M581.1 91.4h0M583.8 91.4h0M585.2 91.4h0M579.8 91.5h0M589.5 91.5h0M586.6 91.7h0M578.4 91.8h0M587.9 91.9h0M577.1 92.0h0M575.7 92.1h0M590.6 92.3h0M582.5 92.5h0M580.9 92.7h0M583.8 92.9h0M585.2 92.9h0M579.6 93.3h0M586.4 93.5h0M582.1 93.8h0M582.5 95.5h0M582.5 97.1h0M581.5 97.9h0M582.7 98.4h0M584.1 98.5h0M580.6 99.0h0M585.3 99.1h0M582.5 99.8h0M583.9 99.8h0M581.3 100.4h0M582.5 101.3h0M582.1 102.6h0M583.4 102.6h0M580.9 103.3h0M582.5 103.9h0M583.8 104.3h0M580.1 104.4h0M585.2 104.6h0M617.7 24.1h0M617.7 51.1h0M616.6 51.8h0M617.7 52.6h0M619.1 53.0h0M616.5 53.3h0M615.1 53.3h0M620.4 53.4h0M613.8 53.4h0M621.7 53.5h0M612.4 53.7h0M623.1 53.7h0M611.0 53.8h0M624.5 53.9h0M609.7 53.9h0M617.7 54.2h0M625.8 54.2h0M608.3 54.3h0M616.4 54.7h0M619.0 54.8h0M620.3 55.0h0M615.2 55.4h0M613.9 55.5h0M621.6 55.5h0M617.7 55.7h0M612.6 55.9h0M622.9 55.9h0M611.2 56.0h0M616.5 56.2h0M618.7 56.7h0M620.0 56.8h0M615.3 56.9h0M621.4 56.9h0M617.4 57.2h0M618.5 58.1h0M617.2 58.6h0M615.9 58.7h0M619.6 58.8h0M614.5 59.0h0M621.0 59.0h0M613.1 59.1h0M618.2 59.6h0M622.3 59.6h0M617.1 60.4h0M618.9 60.7h0M617.7 61.7h0M616.4 62.0h0M619.1 62.1h0M620.4 62.2h0M615.0 62.2h0M621.8 62.3h0M617.5 63.1h0M614.1 63.2h0M612.7 63.3h0M615.9 63.3h0M619.4 63.4h0M620.6 64.1h0M622.0 64.1h0M623.3 64.2h0M617.7 64.7h0M616.4 65.1h0M619.0 65.3h0M620.3 65.4h0M615.1 65.4h0M621.7 65.6h0M613.7 65.6h0M617.7 66.3h0M616.4 66.7h0M619.0 66.9h0M620.4 66.9h0M617.7 67.9h0M616.4 68.1h0M617.6 69.3h0M619.0 69.3h0M616.2 69.5h0M620.3 69.7h0M614.9 70.0h0M617.7 71.2h0M616.5 71.8h0M617.7 72.6h0M619.1 72.7h0M616.6 73.5h0M620.2 73.6h0M615.3 73.7h0M618.2 73.9h0M621.4 74.1h0M617.3 75.0h0M618.8 75.1h0M616.0 75.5h0M619.7 76.1h0M617.7 76.4h0M617.7 78.2h0M616.4 78.6h0M618.8 79.0h0M620.1 79.4h0M617.5 79.6h0M615.6 79.7h0M614.3 79.9h0M621.4 80.0h0M612.9 80.2h0M622.7 80.3h0M617.7 80.9h0M616.4 81.2h0M619.0 81.3h0M615.2 81.8h0M620.1 82.1h0M621.5 82.1h0M613.8 82.2h0M617.7 82.3h0M616.4 82.6h0M622.8 82.7h0M612.6 82.7h0M624.1 82.9h0M618.3 83.6h0M619.7 83.7h0M617.1 84.1h0M615.8 84.5h0M617.7 85.7h0M617.0 86.9h0M617.7 88.3h0M617.0 89.4h0M618.3 89.8h0M619.6 89.9h0M615.7 90.0h0M621.0 90.1h0M614.4 90.3h0M622.3 90.4h0M617.7 91.4h0M616.5 92.0h0M617.7 94.8h0M616.4 94.9h0M619.1 95.1h0M620.4 95.2h0M617.7 96.3h0M617.7 98.4h0M616.4 98.4h0M617.7 99.9h0M616.4 100.2h0M617.7 103.0h0M616.4 103.4h0M617.7 104.6h0" stroke="#13435f" stroke-width="1.45" stroke-linecap="round" fill="none"/>
<path d="M380.2 5.90V112.00H643.4" stroke="#222" stroke-width="1.33" fill="none" stroke-linejoin="miter"/>
<path d="M380.2 105.90h-4.7M380.2 79.40h-4.7M380.2 52.89h-4.7M380.2 26.39h-4.7M406.35 112.00v4.7M441.58 112.00v4.7M476.81 112.00v4.7M512.04 112.00v4.7M547.27 112.00v4.7M582.50 112.00v4.7M617.73 112.00v4.7" stroke="#222" stroke-width="1.2" fill="none"/>
<text x="384.8" y="15.65" font-size="15.2" font-weight="bold" fill="#000" textLength="71.5" lengthAdjust="spacingAndGlyphs">São Paulo</text>
<path d="M643.4 5.90V112.50M643.4 93.77h4.7M643.4 64.94h4.7M643.4 36.11h4.7M643.4 7.27h4.7" stroke="#ffa10a" stroke-width="1.2" fill="none"/>
<text x="652.6" y="98.62" font-size="13.7" fill="#ffa10a" stroke="#ffa10a" stroke-width="0.2" textLength="18.4" lengthAdjust="spacingAndGlyphs">0.5</text>
<text x="652.6" y="69.79" font-size="13.7" fill="#ffa10a" stroke="#ffa10a" stroke-width="0.2" textLength="18.4" lengthAdjust="spacingAndGlyphs">1.0</text>
<text x="652.6" y="40.96" font-size="13.7" fill="#ffa10a" stroke="#ffa10a" stroke-width="0.2" textLength="18.4" lengthAdjust="spacingAndGlyphs">1.5</text>
<text x="652.6" y="12.12" font-size="13.7" fill="#ffa10a" stroke="#ffa10a" stroke-width="0.2" textLength="18.4" lengthAdjust="spacingAndGlyphs">2.0</text>
<text transform="translate(684.8 59.30) rotate(-90)" font-size="12" fill="#ffa10a" stroke="#ffa10a" stroke-width="0.1" text-anchor="middle">Coefficient of Variation</text>
<polyline points="406.35,78.20 441.58,84.50 476.81,77.60 512.04,80.00 547.27,90.40 582.50,94.00 617.73,97.00" stroke="#ffa10a" stroke-width="2" fill="none" stroke-linejoin="round" stroke-linecap="butt"/>
</g>
<g>
<path d="M64.1 232.62H327.4M64.1 206.12H327.4M64.1 179.61H327.4M64.1 153.11H327.4" stroke="#c9c9c9" stroke-width="0.8" stroke-dasharray="1.1 1.0" fill="none"/>
<path d="M76.15 225.04H104.35V230.41H76.15ZM111.38 219.40H139.58V228.40H111.38ZM146.61 211.72H174.81V225.75H146.61ZM181.84 207.22H210.04V222.58H181.84ZM217.07 181.55H245.27V209.87H217.07ZM252.30 190.55H280.50V201.80H252.30ZM287.53 182.34H315.73V191.34H287.53Z" fill="#89b2cb" stroke="#6c6c6c" stroke-width="1.25"/>
<path d="M90.25 225.04V218.08M90.25 230.41V232.11M125.48 219.40V207.75M125.48 228.40V231.84M160.71 211.72V198.22M160.71 225.75V231.58M195.94 207.22V195.84M195.94 222.58V231.05M231.17 181.55V147.40M231.17 209.87V232.21M266.40 190.55V180.22M266.40 201.80V213.84M301.63 182.34V170.43M301.63 191.34V203.25" stroke="#2a2f33" stroke-width="1.1" fill="none"/>
<path d="M76.65 228.40H103.85M111.88 224.16H139.08M147.11 222.05H174.31M182.34 212.78H209.54M217.57 200.34H244.77M252.80 195.84H280.00M288.03 186.31H315.23" stroke="#fff" stroke-width="2.2" fill="none"/>
<path d="M90.2 198.8h0M90.2 206.2h0M90.2 214.6h0M90.2 218.1h0M89.1 218.9h0M90.3 219.5h0M91.7 219.5h0M88.0 219.7h0M89.7 220.7h0M91.1 220.8h0M90.2 223.5h0M88.9 223.6h0M91.6 223.6h0M87.6 224.1h0M92.8 224.4h0M89.7 224.7h0M86.4 224.8h0M91.0 225.0h0M94.0 225.0h0M95.4 225.0h0M85.1 225.0h0M96.8 225.0h0M83.7 225.0h0M88.4 225.2h0M98.0 225.6h0M92.2 225.7h0M87.2 225.9h0M82.7 226.0h0M90.2 226.2h0M89.0 226.6h0M93.0 226.8h0M91.5 226.8h0M86.4 227.0h0M94.4 227.0h0M85.1 227.2h0M95.7 227.2h0M83.7 227.2h0M87.8 227.3h0M97.1 227.4h0M82.3 227.4h0M98.5 227.4h0M90.2 227.6h0M81.0 227.7h0M89.1 228.4h0M91.1 228.7h0M92.4 228.8h0M88.0 229.2h0M93.8 229.2h0M86.6 229.4h0M90.0 229.5h0M95.1 229.6h0M85.3 229.7h0M96.4 229.8h0M83.9 229.9h0M91.7 229.9h0M97.8 229.9h0M82.5 230.0h0M99.2 230.0h0M81.2 230.0h0M100.5 230.1h0M79.8 230.1h0M101.9 230.2h0M88.8 230.3h0M92.9 230.5h0M87.5 230.5h0M78.5 230.6h0M103.2 230.7h0M90.4 230.8h0M94.2 230.8h0M86.1 230.9h0M95.6 230.9h0M84.8 231.1h0M97.0 231.2h0M83.4 231.2h0M98.3 231.2h0M91.6 231.4h0M89.3 231.7h0M82.1 231.7h0M99.6 231.7h0M88.0 231.9h0M92.9 231.9h0M94.8 232.0h0M80.8 232.1h0M101.0 232.1h0M125.5 169.9h0M125.2 171.2h0M125.5 199.8h0M125.5 204.6h0M125.5 207.8h0M124.1 207.8h0M125.5 212.6h0M124.2 213.0h0M125.5 214.0h0M125.5 216.0h0M124.2 216.4h0M126.4 216.9h0M127.8 217.2h0M125.1 217.4h0M123.3 217.5h0M122.0 217.7h0M126.1 218.4h0M124.9 219.1h0M127.1 219.3h0M123.5 219.3h0M128.5 219.3h0M122.1 219.4h0M129.9 219.4h0M120.8 219.4h0M131.3 219.4h0M125.5 220.4h0M124.1 220.7h0M126.5 221.2h0M127.9 221.3h0M123.1 221.5h0M129.3 221.6h0M125.2 221.7h0M121.7 221.8h0M130.5 222.2h0M120.4 222.2h0M126.2 222.7h0M124.7 222.9h0M127.5 223.1h0M123.3 223.1h0M128.9 223.2h0M122.0 223.6h0M130.2 223.6h0M125.5 224.1h0M120.8 224.2h0M124.3 224.7h0M126.5 225.0h0M127.9 225.0h0M125.4 225.7h0M123.4 225.8h0M128.7 226.1h0M127.1 226.2h0M122.2 226.4h0M130.1 226.5h0M120.8 226.6h0M125.8 226.9h0M124.5 227.2h0M127.0 227.7h0M123.2 227.7h0M128.4 227.7h0M121.9 228.0h0M129.7 228.0h0M125.5 228.3h0M120.6 228.4h0M131.0 228.4h0M124.2 228.7h0M125.9 229.6h0M127.3 229.6h0M123.2 229.7h0M128.6 229.7h0M121.8 229.8h0M124.6 230.2h0M129.9 230.2h0M120.5 230.2h0M131.3 230.3h0M119.1 230.3h0M132.7 230.4h0M117.8 230.4h0M134.0 230.7h0M116.4 230.8h0M125.7 231.1h0M124.1 231.4h0M126.9 231.7h0M122.8 231.7h0M128.3 231.8h0M121.4 231.8h0M160.7 167.5h0M160.7 178.6h0M160.7 198.2h0M160.7 199.7h0M159.4 200.0h0M160.7 203.5h0M159.3 203.6h0M161.8 204.4h0M160.7 206.3h0M159.4 206.6h0M161.5 207.4h0M160.7 209.7h0M159.5 210.3h0M161.5 210.8h0M162.9 211.0h0M158.3 211.1h0M164.2 211.4h0M160.3 211.6h0M157.1 211.6h0M165.5 211.6h0M155.7 211.7h0M166.9 211.7h0M162.0 212.1h0M160.7 214.0h0M160.7 217.2h0M159.4 217.5h0M160.7 218.9h0M159.3 219.1h0M162.0 219.3h0M163.4 219.4h0M158.3 220.0h0M157.0 220.0h0M160.7 220.4h0M164.3 220.4h0M165.7 220.5h0M159.4 220.8h0M162.0 220.9h0M156.0 221.0h0M158.1 221.4h0M163.3 221.4h0M160.7 221.7h0M164.5 221.9h0M159.4 222.3h0M161.2 223.0h0M162.6 223.1h0M158.4 223.1h0M164.0 223.3h0M157.0 223.3h0M165.3 223.4h0M160.0 223.6h0M155.8 224.0h0M166.5 224.0h0M161.1 224.4h0M159.3 224.8h0M162.3 225.1h0M158.0 225.1h0M163.7 225.3h0M156.6 225.3h0M165.1 225.4h0M155.3 225.5h0M160.5 225.6h0M166.4 225.6h0M153.9 225.8h0M167.7 226.1h0M159.0 226.1h0M161.6 226.3h0M163.0 226.7h0M160.7 227.3h0M159.3 227.6h0M162.0 227.8h0M158.0 227.8h0M163.4 228.0h0M156.7 228.3h0M164.8 228.4h0M160.7 229.1h0M159.3 229.1h0M162.1 229.4h0M158.2 229.9h0M163.1 230.2h0M160.7 230.9h0M159.3 231.0h0M162.0 231.3h0M158.1 231.6h0M195.9 145.0h0M195.9 148.7h0M195.9 154.5h0M195.9 165.4h0M195.9 171.5h0M195.9 178.1h0M195.9 182.1h0M195.9 186.8h0M195.9 195.8h0M195.9 200.3h0M195.9 202.7h0M194.6 202.8h0M197.2 203.3h0M195.4 204.0h0M196.4 204.9h0M195.9 206.1h0M194.6 206.5h0M197.2 206.6h0M198.6 206.8h0M193.3 206.8h0M199.9 207.0h0M191.9 207.1h0M201.3 207.1h0M190.6 207.2h0M202.7 207.2h0M189.2 207.2h0M204.1 207.2h0M187.8 207.2h0M195.9 207.8h0M194.6 208.1h0M197.3 208.2h0M198.6 208.3h0M193.4 208.8h0M199.8 209.1h0M195.9 209.3h0M197.9 209.4h0M194.6 209.5h0M192.3 209.5h0M190.9 209.7h0M195.9 211.0h0M194.6 211.4h0M197.3 211.4h0M193.3 211.7h0M198.5 211.9h0M199.9 212.2h0M195.9 212.4h0M192.1 212.4h0M194.6 212.7h0M196.5 213.6h0M197.8 213.9h0M195.2 214.1h0M193.8 214.3h0M198.8 214.8h0M195.9 215.4h0M194.7 215.9h0M197.1 216.1h0M198.5 216.2h0M193.3 216.2h0M199.9 216.3h0M195.8 216.7h0M192.2 217.0h0M201.0 217.1h0M196.1 218.0h0M194.8 218.6h0M195.9 219.5h0M194.7 220.0h0M195.9 221.3h0M194.7 221.8h0M195.9 223.6h0M194.6 223.7h0M197.1 224.4h0M193.5 224.5h0M198.4 224.7h0M192.1 224.8h0M195.4 224.9h0M196.5 225.7h0M194.5 225.8h0M197.7 226.4h0M195.9 226.9h0M194.3 227.2h0M198.6 227.4h0M192.9 227.6h0M197.0 227.7h0M195.4 228.1h0M194.0 228.6h0M196.3 229.1h0M195.3 230.0h0M197.1 230.2h0M196.1 231.0h0M231.2 133.1h0M231.2 147.4h0M231.2 170.5h0M230.1 171.4h0M231.2 174.1h0M229.9 174.7h0M231.2 176.7h0M230.2 177.6h0M231.3 178.3h0M230.3 179.2h0M232.2 179.3h0M228.9 179.4h0M233.5 179.9h0M231.2 180.6h0M230.0 181.3h0M231.2 182.3h0M230.2 183.3h0M231.2 186.1h0M230.2 187.1h0M231.2 188.5h0M229.8 188.6h0M231.2 189.9h0M231.2 191.8h0M230.0 192.5h0M231.2 194.1h0M231.2 197.1h0M231.2 199.0h0M230.1 199.9h0M232.1 200.0h0M231.2 201.4h0M231.2 203.4h0M230.3 204.5h0M231.7 204.7h0M233.0 205.0h0M231.2 206.6h0M229.9 207.2h0M232.4 207.2h0M233.7 207.6h0M228.6 207.7h0M231.2 208.4h0M234.8 208.4h0M230.1 209.3h0M232.1 209.4h0M231.2 211.7h0M229.8 211.8h0M231.0 213.0h0M232.2 213.7h0M231.2 216.3h0M230.1 217.1h0M231.2 218.1h0M231.2 224.9h0M231.2 227.6h0M229.9 228.1h0M232.3 228.4h0M231.2 229.2h0M229.8 229.6h0M231.2 230.7h0M231.2 232.2h0M266.4 169.9h0M266.4 180.2h0M265.2 180.9h0M267.6 180.9h0M268.9 181.2h0M266.4 182.4h0M265.0 182.5h0M267.4 183.4h0M264.1 183.6h0M266.1 183.9h0M268.5 184.1h0M263.1 184.4h0M267.0 184.9h0M266.4 186.8h0M265.0 186.9h0M267.6 187.4h0M266.0 188.1h0M264.7 188.6h0M266.9 189.1h0M268.3 189.2h0M263.5 189.2h0M269.7 189.3h0M262.1 189.4h0M265.8 189.8h0M270.9 189.9h0M260.9 189.9h0M272.3 190.1h0M259.5 190.1h0M267.2 190.4h0M264.5 190.4h0M268.6 190.5h0M263.1 190.5h0M273.6 190.5h0M258.3 190.8h0M269.9 190.9h0M266.1 191.2h0M267.6 191.7h0M264.1 191.7h0M262.5 191.8h0M268.8 192.2h0M265.5 192.4h0M270.2 192.5h0M261.4 192.6h0M266.7 192.9h0M264.4 193.2h0M263.0 193.3h0M268.0 193.4h0M269.4 193.7h0M270.7 193.7h0M265.9 194.0h0M261.9 194.0h0M271.9 194.4h0M260.5 194.4h0M267.1 194.6h0M264.6 194.6h0M268.5 194.7h0M263.3 195.0h0M269.7 195.2h0M273.0 195.3h0M261.6 195.3h0M266.0 195.4h0M271.1 195.6h0M260.0 195.6h0M258.6 195.8h0M274.3 195.8h0M267.4 195.9h0M257.3 195.9h0M264.8 196.1h0M268.6 196.5h0M263.5 196.7h0M266.4 196.8h0M269.9 197.0h0M262.3 197.2h0M271.3 197.2h0M265.2 197.5h0M267.6 197.6h0M261.1 197.8h0M266.4 198.7h0M265.1 199.0h0M267.6 199.3h0M269.0 199.4h0M263.9 199.8h0M262.6 199.8h0M270.3 199.9h0M261.2 199.9h0M266.4 200.3h0M271.5 200.4h0M265.1 200.6h0M267.7 200.6h0M269.1 200.9h0M260.3 200.9h0M263.3 201.0h0M270.4 201.4h0M262.0 201.4h0M272.4 201.4h0M266.4 201.7h0M259.2 201.8h0M264.5 201.8h0M273.8 201.8h0M257.8 201.9h0M268.2 201.9h0M275.1 202.0h0M256.5 202.0h0M276.5 202.0h0M255.1 202.1h0M260.9 202.2h0M269.4 202.5h0M263.4 202.6h0M270.8 202.6h0M265.6 202.8h0M267.1 202.9h0M262.1 203.0h0M272.1 203.1h0M259.9 203.1h0M268.0 203.8h0M264.8 203.9h0M266.3 204.0h0M269.4 204.1h0M267.2 205.0h0M265.7 205.2h0M268.4 205.7h0M266.4 206.7h0M265.2 207.3h0M266.4 208.4h0M267.8 208.5h0M265.6 209.5h0M266.9 209.8h0M266.3 211.0h0M266.9 212.2h0M266.4 213.8h0M266.4 219.7h0M266.4 221.8h0M266.4 223.9h0M301.6 160.4h0M301.6 163.3h0M301.6 170.4h0M301.6 171.9h0M301.6 173.3h0M300.3 173.8h0M302.9 173.9h0M304.3 173.9h0M299.2 174.5h0M301.6 175.1h0M300.3 175.3h0M302.9 175.5h0M301.6 177.6h0M300.3 177.7h0M303.0 177.8h0M301.1 178.9h0M302.4 179.2h0M300.1 179.8h0M301.5 180.2h0M302.9 180.5h0M304.3 180.6h0M300.6 181.2h0M299.2 181.2h0M305.4 181.3h0M297.8 181.4h0M301.9 181.5h0M306.8 181.6h0M303.2 182.1h0M296.7 182.2h0M295.3 182.2h0M308.0 182.2h0M294.0 182.2h0M309.4 182.2h0M304.5 182.3h0M292.6 182.3h0M310.7 182.3h0M291.2 182.3h0M301.1 182.6h0M299.7 182.7h0M298.3 182.8h0M305.7 183.0h0M311.9 183.0h0M302.3 183.2h0M307.1 183.2h0M290.3 183.3h0M313.3 183.3h0M303.7 183.5h0M297.3 183.6h0M295.9 183.6h0M308.3 183.7h0M300.7 183.9h0M299.1 183.9h0M304.8 184.3h0M306.2 184.4h0M294.8 184.4h0M302.0 184.5h0M309.5 184.5h0M303.3 184.9h0M300.4 185.2h0M299.0 185.3h0M305.3 185.5h0M297.6 185.6h0M301.6 185.8h0M306.6 185.9h0M296.3 185.9h0M304.0 186.1h0M308.0 186.1h0M294.9 186.1h0M309.4 186.1h0M293.6 186.1h0M310.7 186.2h0M292.2 186.3h0M312.1 186.4h0M300.6 186.7h0M302.6 186.8h0M299.2 186.8h0M305.0 187.0h0M297.8 187.0h0M291.0 187.0h0M307.0 187.2h0M296.5 187.3h0M303.7 187.6h0M301.6 187.7h0M300.3 188.0h0M298.9 188.4h0M302.7 188.5h0M304.7 188.6h0M297.6 188.6h0M306.0 188.7h0M301.5 189.1h0M296.4 189.3h0M307.3 189.3h0M300.1 189.4h0M295.0 189.4h0M303.6 189.5h0M308.6 189.6h0M298.9 190.0h0M304.9 190.0h0M302.4 190.1h0M297.6 190.2h0M306.2 190.3h0M293.9 190.3h0M301.1 190.6h0M296.3 190.7h0M303.5 190.8h0M299.9 191.2h0M298.5 191.3h0M305.2 191.3h0M307.1 191.4h0M295.1 191.4h0M308.5 191.4h0M309.8 191.4h0M302.1 191.5h0M293.3 191.5h0M311.2 191.6h0M297.2 191.7h0M292.0 191.7h0M312.6 191.9h0M290.6 191.9h0M300.9 192.2h0M303.2 192.3h0M299.6 192.5h0M304.5 192.7h0M298.3 192.9h0M301.7 193.3h0M305.7 193.3h0M300.5 193.8h0M303.0 193.8h0M297.4 194.0h0M299.1 194.1h0M304.3 194.2h0M306.7 194.3h0M296.1 194.4h0M301.6 194.8h0M300.4 195.4h0M302.8 195.6h0M304.1 195.8h0M299.1 195.9h0M301.6 199.6h0M300.4 200.1h0M302.8 200.2h0M301.6 201.9h0M301.6 203.3h0M301.6 205.9h0M301.6 211.2h0M301.6 216.5h0M301.6 227.1h0" stroke="#13435f" stroke-width="1.45" stroke-linecap="round" fill="none"/>
<path d="M64.1 132.62V238.72H327.4" stroke="#222" stroke-width="1.33" fill="none" stroke-linejoin="miter"/>
<path d="M64.1 232.62h-4.7M64.1 206.12h-4.7M64.1 179.61h-4.7M64.1 153.11h-4.7M90.25 238.72v4.7M125.48 238.72v4.7M160.71 238.72v4.7M195.94 238.72v4.7M231.17 238.72v4.7M266.40 238.72v4.7M301.63 238.72v4.7" stroke="#222" stroke-width="1.2" fill="none"/>
<text x="55.2" y="237.72" font-size="13.7" fill="#222" stroke="#222" stroke-width="0.2" text-anchor="end" textLength="7.5" lengthAdjust="spacingAndGlyphs">0</text>
<text x="55.2" y="211.22" font-size="13.7" fill="#222" stroke="#222" stroke-width="0.2" text-anchor="end" textLength="22.4" lengthAdjust="spacingAndGlyphs">100</text>
<text x="55.2" y="184.71" font-size="13.7" fill="#222" stroke="#222" stroke-width="0.2" text-anchor="end" textLength="22.4" lengthAdjust="spacingAndGlyphs">200</text>
<text x="55.2" y="158.21" font-size="13.7" fill="#222" stroke="#222" stroke-width="0.2" text-anchor="end" textLength="22.4" lengthAdjust="spacingAndGlyphs">300</text>
<text transform="translate(10.1 186.27) rotate(-90)" font-size="13.15" fill="#222" stroke="#222" stroke-width="0.15" text-anchor="middle">Internet download</text>
<text transform="translate(25.3 186.27) rotate(-90)" font-size="13.15" fill="#222" stroke="#222" stroke-width="0.15" text-anchor="middle">speed (Mbps)</text>
<text x="68.7" y="142.37" font-size="15.2" font-weight="bold" fill="#000" textLength="105.3" lengthAdjust="spacingAndGlyphs">Belo Horizonte</text>
<path d="M327.4 132.62V239.22M327.4 220.49h4.7M327.4 191.66h4.7M327.4 162.82h4.7M327.4 133.99h4.7" stroke="#ffa10a" stroke-width="1.2" fill="none"/>
<text x="336.6" y="225.34" font-size="13.7" fill="#ffa10a" stroke="#ffa10a" stroke-width="0.2" textLength="18.4" lengthAdjust="spacingAndGlyphs">0.5</text>
<text x="336.6" y="196.51" font-size="13.7" fill="#ffa10a" stroke="#ffa10a" stroke-width="0.2" textLength="18.4" lengthAdjust="spacingAndGlyphs">1.0</text>
<text x="336.6" y="167.67" font-size="13.7" fill="#ffa10a" stroke="#ffa10a" stroke-width="0.2" textLength="18.4" lengthAdjust="spacingAndGlyphs">1.5</text>
<text x="336.6" y="138.84" font-size="13.7" fill="#ffa10a" stroke="#ffa10a" stroke-width="0.2" textLength="18.4" lengthAdjust="spacingAndGlyphs">2.0</text>
<polyline points="90.25,192.72 125.48,189.72 160.71,205.32 195.94,203.22 231.17,216.02 266.40,232.12 301.63,230.02" stroke="#ffa10a" stroke-width="2" fill="none" stroke-linejoin="round" stroke-linecap="butt"/>
</g>
<g>
<path d="M380.2 232.62H643.4M380.2 206.12H643.4M380.2 179.61H643.4M380.2 153.11H643.4" stroke="#c9c9c9" stroke-width="0.8" stroke-dasharray="1.1 1.0" fill="none"/>
<path d="M392.25 226.28H420.45V230.70H392.25ZM427.48 224.16H455.68V228.66H427.48ZM462.71 217.81H490.91V225.75H462.71ZM497.94 207.22H526.14V218.18H497.94ZM533.17 179.69H561.37V209.87H533.17ZM568.40 206.83H596.60V216.75H568.40ZM603.63 197.69H631.83V207.49H603.63Z" fill="#89b2cb" stroke="#6c6c6c" stroke-width="1.25"/>
<path d="M406.35 226.28V221.25M406.35 230.70V232.11M441.58 224.16V219.13M441.58 228.66V231.84M476.81 217.81V207.22M476.81 225.75V232.37M512.04 207.22V196.37M512.04 218.18V230.25M547.27 179.69V141.31M547.27 209.87V232.21M582.50 206.83V195.84M582.50 216.75V228.66M617.73 197.69V182.34M617.73 207.49V218.18" stroke="#2a2f33" stroke-width="1.1" fill="none"/>
<path d="M392.75 228.61H419.95M427.98 226.55H455.18M463.21 222.05H490.41M498.44 213.71H525.64M533.67 201.80H560.87M568.90 210.66H596.10M604.13 202.46H631.33" stroke="#fff" stroke-width="2.2" fill="none"/>
<path d="M406.3 216.0h0M406.3 217.8h0M406.3 221.3h0M405.0 221.4h0M407.4 222.1h0M403.9 222.3h0M406.3 224.2h0M405.4 225.2h0M407.3 225.2h0M408.7 225.2h0M404.0 225.3h0M410.0 225.8h0M402.8 226.0h0M401.4 226.1h0M411.3 226.1h0M400.1 226.1h0M406.3 226.2h0M412.7 226.2h0M398.7 226.3h0M414.0 226.3h0M397.3 226.3h0M405.0 226.7h0M407.2 227.3h0M408.5 227.5h0M404.1 227.6h0M409.9 227.7h0M405.9 227.8h0M402.7 227.9h0M411.3 228.0h0M401.4 228.0h0M412.6 228.0h0M400.0 228.0h0M414.0 228.1h0M398.6 228.2h0M415.4 228.3h0M397.3 228.4h0M416.7 228.6h0M407.6 228.6h0M395.9 228.7h0M406.3 229.3h0M405.0 229.3h0M408.7 229.5h0M403.7 229.9h0M409.9 230.0h0M402.3 230.0h0M407.4 230.1h0M411.3 230.2h0M401.0 230.3h0M412.7 230.3h0M399.6 230.3h0M414.0 230.3h0M398.2 230.5h0M415.4 230.5h0M406.0 230.6h0M396.9 230.6h0M416.8 230.7h0M395.5 230.7h0M418.1 230.7h0M394.1 230.8h0M404.7 230.9h0M408.4 231.1h0M403.1 231.1h0M419.5 231.1h0M402.5 231.2h0M413.7 231.2h0M404.4 231.2h0M409.7 231.3h0M401.8 231.4h0M407.1 231.4h0M411.7 231.5h0M400.4 231.5h0M413.2 231.5h0M399.1 231.6h0M405.9 232.1h0M404.0 232.1h0M441.6 179.4h0M441.6 198.8h0M441.6 201.1h0M441.6 204.0h0M441.6 213.6h0M441.6 219.1h0M441.6 221.3h0M440.3 221.8h0M442.9 221.8h0M444.2 222.0h0M439.0 222.2h0M445.5 222.6h0M441.6 223.0h0M437.9 223.0h0M440.2 223.2h0M442.9 223.3h0M444.2 223.7h0M439.1 223.9h0M445.6 224.1h0M437.1 224.1h0M446.9 224.1h0M435.7 224.2h0M448.3 224.2h0M434.3 224.2h0M441.6 224.4h0M440.3 225.0h0M442.6 225.2h0M444.0 225.3h0M439.0 225.3h0M445.4 225.4h0M437.7 225.6h0M446.7 225.7h0M436.3 225.8h0M441.5 226.0h0M448.1 226.0h0M434.9 226.0h0M449.5 226.1h0M440.2 226.5h0M443.2 226.5h0M433.7 226.5h0M444.6 226.5h0M438.9 226.8h0M437.3 226.9h0M445.9 227.0h0M447.2 227.1h0M441.6 227.3h0M436.0 227.4h0M434.6 227.5h0M443.7 227.8h0M440.3 227.9h0M438.2 228.0h0M448.2 228.0h0M449.6 228.0h0M445.0 228.2h0M446.3 228.3h0M442.4 228.4h0M436.9 228.4h0M433.8 228.5h0M435.5 228.6h0M432.4 228.7h0M439.4 228.9h0M441.2 229.2h0M443.4 229.3h0M438.0 229.3h0M447.2 229.4h0M445.3 229.5h0M448.6 229.5h0M449.9 229.5h0M436.8 229.9h0M442.1 230.2h0M440.8 230.6h0M443.4 230.7h0M439.5 230.9h0M444.8 231.0h0M438.2 231.4h0M446.1 231.4h0M441.8 231.5h0M436.9 231.8h0M476.8 192.7h0M476.8 198.8h0M476.8 207.2h0M475.4 207.4h0M476.8 210.7h0M475.4 210.8h0M476.8 212.9h0M475.4 213.1h0M476.8 214.7h0M475.8 215.6h0M476.8 216.8h0M475.6 217.5h0M477.9 217.5h0M479.3 217.6h0M474.2 217.6h0M480.7 217.6h0M472.9 217.7h0M482.1 217.7h0M471.5 217.7h0M483.5 217.8h0M470.2 218.1h0M476.8 218.3h0M484.7 218.3h0M468.9 218.5h0M475.6 218.9h0M477.7 219.2h0M479.0 219.6h0M474.5 219.7h0M480.4 219.7h0M476.6 220.0h0M473.4 220.5h0M477.8 220.7h0M475.5 220.8h0M479.2 221.0h0M480.6 221.1h0M476.8 221.8h0M474.8 221.9h0M473.4 221.9h0M478.1 222.2h0M479.8 222.2h0M481.2 222.3h0M472.2 222.7h0M482.5 222.7h0M470.9 222.8h0M475.9 222.8h0M483.9 222.8h0M469.5 223.1h0M477.1 223.5h0M475.3 224.0h0M478.4 224.0h0M473.9 224.2h0M476.8 224.9h0M479.3 225.0h0M478.0 225.5h0M475.6 225.6h0M474.2 225.7h0M480.4 225.8h0M476.8 226.3h0M478.7 226.6h0M475.8 227.3h0M477.3 227.6h0M474.5 227.8h0M478.6 228.2h0M476.6 228.8h0M479.7 228.9h0M475.3 229.2h0M476.8 230.1h0M475.6 230.8h0M477.9 230.9h0M479.3 230.9h0M474.2 230.9h0M476.8 232.0h0M475.5 232.2h0M478.1 232.3h0M479.5 232.4h0M512.0 172.0h0M512.0 188.4h0M512.0 196.4h0M511.1 197.3h0M512.0 198.7h0M511.0 199.6h0M512.0 202.6h0M510.7 202.7h0M513.1 203.5h0M512.0 205.7h0M510.7 205.7h0M513.0 206.6h0M514.4 206.7h0M511.6 206.9h0M510.2 207.0h0M508.8 207.1h0M515.7 207.1h0M507.4 207.2h0M517.0 207.2h0M506.1 207.2h0M518.4 207.3h0M512.0 208.2h0M510.9 208.9h0M512.0 209.7h0M511.8 211.0h0M513.2 211.2h0M510.5 211.5h0M514.5 211.6h0M509.4 212.3h0M512.0 212.7h0M513.4 212.7h0M510.7 213.0h0M514.7 213.2h0M508.5 213.3h0M516.1 213.4h0M507.2 213.6h0M517.4 213.6h0M505.8 213.7h0M518.8 213.8h0M504.4 213.9h0M512.0 214.2h0M513.4 214.3h0M510.4 214.3h0M515.1 214.5h0M509.0 214.6h0M516.3 215.2h0M511.4 215.4h0M512.0 216.9h0M510.7 217.0h0M513.4 217.1h0M509.5 217.7h0M514.6 217.8h0M515.9 217.9h0M508.2 218.1h0M517.3 218.1h0M511.6 218.2h0M512.0 220.1h0M510.7 220.4h0M513.3 220.7h0M512.0 221.6h0M510.8 222.2h0M513.0 222.5h0M512.0 223.7h0M510.7 224.0h0M512.0 225.2h0M510.7 225.4h0M512.6 226.4h0M511.9 227.6h0M513.1 228.1h0M511.0 228.6h0M514.4 228.6h0M509.6 228.8h0M515.8 228.8h0M508.2 228.9h0M512.0 230.3h0M547.3 141.3h0M547.3 154.1h0M547.3 156.5h0M547.3 161.1h0M547.3 164.2h0M547.3 165.8h0M547.3 168.8h0M547.3 174.8h0M545.9 175.0h0M547.3 179.4h0M545.9 179.7h0M548.6 179.7h0M547.3 181.8h0M547.3 184.1h0M547.3 190.2h0M545.9 190.2h0M547.3 195.6h0M547.3 198.1h0M545.9 198.3h0M548.2 199.1h0M547.3 200.5h0M547.0 201.8h0M547.3 203.2h0M547.3 204.7h0M546.0 205.2h0M548.5 205.2h0M549.9 205.3h0M544.6 205.4h0M551.3 205.5h0M547.3 207.8h0M546.6 208.9h0M547.7 209.7h0M545.5 209.7h0M549.0 210.1h0M547.0 210.8h0M547.3 218.0h0M546.4 219.0h0M547.3 221.2h0M546.2 222.0h0M548.3 222.1h0M549.7 222.3h0M547.3 224.5h0M546.1 225.2h0M548.4 225.3h0M547.3 232.2h0M582.5 195.8h0M582.5 198.7h0M581.2 199.2h0M583.5 199.6h0M584.9 199.9h0M582.5 201.2h0M581.1 201.2h0M583.4 202.2h0M581.9 202.4h0M580.6 202.6h0M582.5 204.7h0M581.1 204.9h0M583.8 205.0h0M579.8 205.3h0M585.2 205.3h0M578.5 205.5h0M586.5 205.7h0M577.2 205.9h0M582.2 206.0h0M580.9 206.2h0M583.5 206.4h0M587.6 206.5h0M584.9 206.7h0M579.6 206.8h0M578.3 206.8h0M582.5 207.8h0M581.1 207.8h0M583.9 208.0h0M579.8 208.3h0M585.2 208.3h0M578.6 208.8h0M582.0 209.0h0M586.4 209.0h0M587.7 209.2h0M583.3 209.3h0M577.3 209.3h0M580.7 209.5h0M575.9 209.6h0M584.6 209.6h0M589.0 209.6h0M590.4 209.7h0M574.6 209.7h0M579.4 210.1h0M591.7 210.2h0M582.4 210.3h0M585.7 210.5h0M578.1 210.6h0M583.8 210.6h0M581.2 211.0h0M579.9 211.5h0M584.7 211.6h0M582.5 211.7h0M586.1 211.8h0M578.6 211.9h0M587.4 212.2h0M577.3 212.3h0M583.7 212.4h0M582.5 213.2h0M581.2 213.7h0M583.7 213.8h0M585.1 214.1h0M579.9 214.1h0M586.5 214.1h0M582.5 214.7h0M581.6 215.7h0M583.4 215.7h0M584.8 215.8h0M580.2 215.8h0M586.2 215.8h0M578.8 216.0h0M587.5 216.2h0M577.5 216.4h0M582.5 218.0h0M581.1 218.1h0M583.8 218.4h0M580.0 218.9h0M582.5 219.5h0M584.1 219.7h0M581.7 220.6h0M583.0 221.1h0M584.4 221.2h0M580.5 221.3h0M585.7 221.5h0M582.2 222.2h0M583.5 222.5h0M579.8 222.5h0M584.9 222.7h0M586.4 222.7h0M581.6 223.4h0M582.8 223.9h0M584.2 224.1h0M580.6 224.4h0M585.5 224.4h0M582.5 226.1h0M581.5 227.1h0M582.5 228.6h0M581.1 228.7h0M617.7 182.3h0M617.7 184.7h0M617.7 186.2h0M616.4 186.4h0M617.7 187.8h0M616.4 187.8h0M617.7 192.5h0M616.4 192.9h0M618.8 193.3h0M620.1 193.7h0M617.7 194.0h0M616.4 194.4h0M618.7 195.0h0M617.4 195.5h0M615.9 195.6h0M619.1 196.3h0M620.4 196.7h0M617.7 197.1h0M616.4 197.1h0M619.0 197.7h0M615.1 197.7h0M621.3 197.7h0M613.7 197.7h0M622.7 197.8h0M617.7 198.5h0M616.4 198.5h0M619.7 198.8h0M615.3 199.4h0M620.9 199.5h0M618.5 199.6h0M617.3 200.1h0M619.7 200.2h0M614.4 200.4h0M616.0 200.6h0M618.3 200.9h0M620.5 201.3h0M621.9 201.4h0M617.1 201.6h0M615.1 201.6h0M613.7 201.7h0M619.1 202.1h0M622.9 202.3h0M612.5 202.3h0M624.3 202.5h0M617.8 202.7h0M616.5 203.0h0M620.1 203.0h0M615.1 203.1h0M621.4 203.2h0M618.7 203.7h0M617.7 204.7h0M616.4 204.9h0M619.2 205.0h0M615.0 205.1h0M620.6 205.2h0M613.7 205.4h0M621.9 205.5h0M617.3 206.0h0M612.4 206.0h0M618.7 206.3h0M616.0 206.4h0M614.7 206.4h0M622.9 206.4h0M620.0 206.7h0M611.2 206.7h0M621.3 207.0h0M617.7 207.5h0M615.4 207.6h0M619.0 208.0h0M617.7 208.9h0M616.4 209.3h0M619.3 209.4h0M615.0 209.4h0M620.6 209.7h0M613.9 210.2h0M621.9 210.2h0M617.7 210.5h0M616.4 210.9h0M618.7 211.5h0M620.1 211.7h0M617.7 212.6h0M616.5 213.3h0M618.0 214.0h0M619.4 214.0h0M617.7 215.3h0M616.9 216.4h0M618.2 216.8h0M616.4 217.6h0M617.7 218.2h0M617.7 222.6h0M617.7 225.5h0M617.7 228.4h0" stroke="#13435f" stroke-width="1.45" stroke-linecap="round" fill="none"/>
<path d="M380.2 132.62V238.72H643.4" stroke="#222" stroke-width="1.33" fill="none" stroke-linejoin="miter"/>
<path d="M380.2 232.62h-4.7M380.2 206.12h-4.7M380.2 179.61h-4.7M380.2 153.11h-4.7M406.35 238.72v4.7M441.58 238.72v4.7M476.81 238.72v4.7M512.04 238.72v4.7M547.27 238.72v4.7M582.50 238.72v4.7M617.73 238.72v4.7" stroke="#222" stroke-width="1.2" fill="none"/>
<text x="384.8" y="142.37" font-size="15.2" font-weight="bold" fill="#000" textLength="67.0" lengthAdjust="spacingAndGlyphs">Fortaleza</text>
<path d="M643.4 132.62V239.22M643.4 220.49h4.7M643.4 191.66h4.7M643.4 162.82h4.7M643.4 133.99h4.7" stroke="#ffa10a" stroke-width="1.2" fill="none"/>
<text x="652.6" y="225.34" font-size="13.7" fill="#ffa10a" stroke="#ffa10a" stroke-width="0.2" textLength="18.4" lengthAdjust="spacingAndGlyphs">0.5</text>
<text x="652.6" y="196.51" font-size="13.7" fill="#ffa10a" stroke="#ffa10a" stroke-width="0.2" textLength="18.4" lengthAdjust="spacingAndGlyphs">1.0</text>
<text x="652.6" y="167.67" font-size="13.7" fill="#ffa10a" stroke="#ffa10a" stroke-width="0.2" textLength="18.4" lengthAdjust="spacingAndGlyphs">1.5</text>
<text x="652.6" y="138.84" font-size="13.7" fill="#ffa10a" stroke="#ffa10a" stroke-width="0.2" textLength="18.4" lengthAdjust="spacingAndGlyphs">2.0</text>
<text transform="translate(684.8 186.02) rotate(-90)" font-size="12" fill="#ffa10a" stroke="#ffa10a" stroke-width="0.1" text-anchor="middle">Coefficient of Variation</text>
<polyline points="406.35,207.07 441.58,192.12 476.81,212.12 512.04,222.02 547.27,214.22 582.50,230.62 617.73,232.72" stroke="#ffa10a" stroke-width="2" fill="none" stroke-linejoin="round" stroke-linecap="butt"/>
</g>
<g>
<path d="M64.1 359.34H327.4M64.1 332.84H327.4M64.1 306.33H327.4M64.1 279.83H327.4" stroke="#c9c9c9" stroke-width="0.8" stroke-dasharray="1.1 1.0" fill="none"/>
<path d="M76.15 355.65H104.35V358.03H76.15ZM111.38 352.31H139.58V357.37H111.38ZM146.61 338.28H174.81V354.38H146.61ZM181.84 321.24H210.04V348.77H181.84ZM217.07 308.53H245.27V341.36H217.07ZM252.30 317.11H280.50V350.22H252.30ZM287.53 309.96H315.73V344.27H287.53Z" fill="#89b2cb" stroke="#6c6c6c" stroke-width="1.25"/>
<path d="M90.25 355.65V353.80M90.25 358.03V358.83M125.48 352.31V346.38M125.48 357.37V358.83M160.71 338.28V319.49M160.71 354.38V358.30M195.94 321.24V292.12M195.94 348.77V358.30M231.17 308.53V280.21M231.17 341.36V358.30M266.40 317.11V302.44M266.40 350.22V359.09M301.63 309.96V298.05M301.63 344.27V357.66" stroke="#2a2f33" stroke-width="1.1" fill="none"/>
<path d="M76.65 356.84H103.85M111.88 355.65H139.08M147.11 346.38H174.31M182.34 333.15H209.54M217.57 326.37H244.77M252.80 340.98H280.00M288.03 328.76H315.23" stroke="#fff" stroke-width="2.2" fill="none"/>
<path d="M90.2 345.1h0M90.2 353.8h0M88.9 354.2h0M91.4 354.5h0M92.8 354.5h0M87.8 355.0h0M90.2 355.2h0M93.9 355.3h0M86.6 355.6h0M95.3 355.6h0M85.2 355.6h0M96.7 355.6h0M83.8 355.6h0M98.0 355.6h0M82.4 355.6h0M99.4 355.6h0M89.0 355.7h0M91.9 355.8h0M81.1 355.8h0M100.8 355.9h0M79.7 356.0h0M102.1 356.1h0M78.3 356.1h0M87.8 356.5h0M90.2 356.6h0M92.9 356.7h0M94.3 356.7h0M103.3 356.7h0M77.1 356.7h0M86.0 356.8h0M95.9 356.8h0M84.6 356.9h0M97.3 356.9h0M83.2 357.0h0M91.5 357.1h0M89.0 357.2h0M98.6 357.4h0M81.9 357.5h0M99.9 357.5h0M87.1 357.6h0M80.6 357.6h0M101.3 357.7h0M79.2 357.7h0M98.2 357.8h0M93.5 357.9h0M94.9 357.9h0M90.2 358.2h0M92.2 358.3h0M85.9 358.3h0M84.5 358.3h0M88.2 358.4h0M96.2 358.4h0M83.1 358.4h0M97.6 358.5h0M102.4 358.5h0M78.1 358.5h0M103.0 358.6h0M99.0 358.7h0M87.4 358.7h0M81.4 358.7h0M100.5 358.8h0M79.9 358.8h0M125.5 334.5h0M125.5 338.2h0M125.5 342.1h0M125.5 346.4h0M124.5 347.3h0M125.5 348.3h0M124.2 348.6h0M125.5 350.4h0M124.1 350.6h0M126.7 351.0h0M123.0 351.4h0M128.0 351.6h0M121.7 351.6h0M125.5 351.9h0M129.3 352.0h0M120.4 352.0h0M124.1 352.3h0M130.6 352.3h0M119.0 352.3h0M132.0 352.3h0M117.6 352.3h0M126.8 352.5h0M133.4 352.6h0M123.1 353.2h0M127.9 353.2h0M125.5 353.4h0M121.9 353.7h0M126.7 353.9h0M124.3 354.1h0M128.9 354.1h0M120.7 354.5h0M125.5 354.8h0M127.8 354.8h0M123.3 355.0h0M129.8 355.1h0M121.9 355.3h0M119.8 355.5h0M131.1 355.5h0M126.6 355.6h0M124.5 355.7h0M128.7 355.8h0M118.5 355.9h0M132.5 355.9h0M117.2 356.1h0M133.8 356.2h0M123.2 356.3h0M125.6 356.5h0M127.5 356.6h0M121.8 356.6h0M129.7 356.7h0M120.4 356.7h0M131.1 357.0h0M124.3 357.1h0M119.1 357.2h0M116.4 357.2h0M132.8 357.3h0M134.6 357.3h0M117.8 357.4h0M126.5 357.5h0M128.5 357.5h0M115.0 357.5h0M123.1 357.7h0M135.9 357.8h0M121.4 357.9h0M113.7 358.0h0M130.0 358.0h0M125.3 358.1h0M120.0 358.2h0M131.4 358.3h0M133.6 358.4h0M137.1 358.4h0M127.4 358.6h0M124.1 358.7h0M118.8 358.7h0M128.9 358.8h0M117.4 358.8h0M160.7 280.5h0M160.7 300.3h0M160.7 303.2h0M160.7 319.5h0M159.3 319.6h0M161.7 320.4h0M160.7 322.8h0M160.7 324.8h0M160.7 326.5h0M159.3 326.7h0M162.0 326.9h0M158.4 327.7h0M160.7 328.6h0M160.7 330.7h0M159.4 330.9h0M160.7 333.6h0M159.4 334.0h0M160.7 336.0h0M159.4 336.2h0M160.7 337.4h0M162.1 337.5h0M159.1 337.5h0M163.4 337.9h0M157.8 338.1h0M164.7 338.5h0M160.7 338.9h0M159.3 339.1h0M160.2 340.2h0M161.6 340.2h0M159.1 341.0h0M160.9 341.4h0M162.3 341.5h0M158.3 342.0h0M159.8 342.2h0M160.7 343.4h0M159.4 343.8h0M162.0 343.9h0M158.1 344.4h0M163.3 344.4h0M160.7 345.1h0M157.0 345.1h0M159.5 345.7h0M161.7 346.0h0M163.0 346.3h0M158.3 346.4h0M160.5 346.7h0M164.2 347.0h0M157.2 347.2h0M161.2 347.9h0M160.0 348.5h0M162.4 348.5h0M158.7 348.8h0M163.7 349.0h0M160.7 349.8h0M159.6 350.6h0M161.7 350.8h0M163.0 351.2h0M158.4 351.3h0M164.3 351.4h0M160.7 352.1h0M159.3 352.3h0M162.0 352.6h0M158.1 352.8h0M163.3 352.9h0M160.7 353.6h0M159.4 354.0h0M161.8 354.4h0M163.1 354.7h0M158.3 354.8h0M157.0 354.8h0M164.5 354.9h0M160.5 355.0h0M155.6 355.0h0M165.8 355.2h0M154.2 355.2h0M167.2 355.3h0M161.6 355.8h0M159.6 356.0h0M162.9 356.2h0M158.3 356.3h0M164.3 356.3h0M156.9 356.4h0M155.5 356.5h0M166.1 356.5h0M160.7 357.8h0M159.3 357.8h0M162.1 357.9h0M158.0 358.3h0M195.9 278.9h0M195.9 292.1h0M194.7 292.8h0M195.9 294.5h0M194.6 294.6h0M195.9 298.0h0M194.6 298.2h0M195.9 301.1h0M194.6 301.5h0M196.7 302.3h0M195.9 307.7h0M195.9 310.4h0M195.9 313.8h0M194.6 314.0h0M195.9 316.7h0M194.8 317.4h0M195.9 319.1h0M194.8 319.8h0M196.7 320.2h0M198.1 320.3h0M193.6 320.5h0M199.4 320.8h0M195.8 321.2h0M195.9 323.6h0M194.6 323.7h0M197.2 324.1h0M193.4 324.3h0M195.9 325.6h0M194.7 326.2h0M196.7 326.8h0M198.1 327.0h0M193.6 327.1h0M195.9 328.4h0M194.6 328.8h0M197.2 329.0h0M198.5 329.3h0M195.9 330.1h0M194.6 330.3h0M197.1 330.7h0M193.4 331.0h0M195.9 331.5h0M194.9 332.5h0M196.7 332.6h0M198.0 333.1h0M193.7 333.1h0M195.9 334.9h0M195.9 336.8h0M194.7 337.3h0M197.2 337.4h0M198.5 337.7h0M195.9 339.1h0M194.8 339.9h0M196.8 340.1h0M197.9 340.9h0M195.9 341.4h0M195.9 343.8h0M194.6 344.2h0M197.2 344.3h0M198.6 344.6h0M195.9 345.7h0M194.6 345.7h0M197.3 345.8h0M193.3 346.3h0M198.5 346.4h0M199.9 346.5h0M195.9 347.5h0M194.7 347.9h0M195.9 350.9h0M194.6 351.1h0M197.2 351.4h0M195.9 352.9h0M195.4 354.1h0M196.5 354.9h0M194.9 355.4h0M197.3 356.0h0M195.9 356.5h0M194.2 356.5h0M198.4 356.8h0M192.9 356.9h0M199.7 357.1h0M191.5 357.1h0M201.1 357.1h0M197.0 357.4h0M195.2 357.7h0M190.4 357.9h0M193.8 357.9h0M202.1 358.0h0M189.0 358.1h0M203.5 358.1h0M198.0 358.3h0M231.2 280.2h0M231.2 296.0h0M231.2 299.2h0M230.0 299.9h0M232.1 300.2h0M231.2 301.8h0M229.8 301.9h0M232.2 302.7h0M228.9 302.9h0M230.9 303.3h0M231.2 305.0h0M229.8 305.3h0M231.2 306.5h0M232.5 306.6h0M231.2 308.4h0M230.6 309.6h0M231.2 311.0h0M229.8 311.0h0M230.7 312.3h0M231.2 314.1h0M229.8 314.1h0M232.5 314.5h0M231.2 315.5h0M231.2 318.0h0M231.2 320.1h0M231.2 322.2h0M231.2 324.9h0M229.8 325.0h0M232.1 325.9h0M230.6 326.1h0M231.2 327.8h0M231.2 332.4h0M229.8 332.4h0M232.5 332.6h0M230.6 333.6h0M231.7 334.4h0M229.8 334.7h0M231.2 336.2h0M229.8 336.3h0M232.4 336.7h0M233.8 336.8h0M228.6 336.9h0M231.2 340.1h0M230.0 340.8h0M232.2 341.0h0M233.5 341.4h0M231.2 343.1h0M230.7 344.3h0M231.2 345.6h0M231.2 347.3h0M229.9 347.7h0M231.2 349.1h0M230.3 350.1h0M231.7 350.3h0M233.0 350.7h0M231.2 355.1h0M230.1 356.0h0M231.4 356.5h0M232.6 357.1h0M230.3 357.4h0M231.3 358.3h0M266.4 302.4h0M265.1 302.9h0M267.5 303.2h0M264.0 303.8h0M266.4 304.1h0M268.2 304.4h0M265.4 305.0h0M266.7 305.5h0M268.1 305.9h0M266.0 306.6h0M264.6 306.9h0M267.1 307.4h0M266.4 308.8h0M265.0 309.0h0M267.7 309.2h0M266.4 310.5h0M265.1 310.8h0M267.7 310.8h0M263.8 311.4h0M268.9 311.5h0M270.3 311.6h0M266.4 313.9h0M265.3 314.7h0M266.4 315.8h0M266.4 319.0h0M265.2 319.6h0M266.4 322.3h0M265.1 322.9h0M266.4 323.9h0M265.1 324.5h0M266.4 326.6h0M265.4 327.5h0M266.7 327.9h0M266.4 329.6h0M265.1 330.0h0M267.4 330.5h0M266.4 333.4h0M265.7 334.6h0M267.1 334.8h0M265.2 335.8h0M266.5 336.2h0M267.8 336.5h0M264.1 336.7h0M269.2 336.8h0M265.5 337.2h0M266.4 339.6h0M265.2 340.2h0M267.3 340.6h0M266.4 342.2h0M265.1 342.7h0M267.4 343.1h0M268.8 343.2h0M266.2 343.7h0M264.3 343.8h0M269.7 344.2h0M263.0 344.2h0M271.1 344.3h0M266.9 344.9h0M265.5 345.0h0M268.2 345.4h0M264.2 345.5h0M269.5 345.7h0M266.4 346.5h0M265.2 347.1h0M267.4 347.4h0M266.2 348.1h0M264.3 348.2h0M268.4 348.4h0M269.6 348.9h0M266.5 349.5h0M265.1 349.8h0M267.7 349.9h0M266.4 351.1h0M265.5 352.1h0M267.0 352.3h0M268.4 352.3h0M264.1 352.4h0M269.7 352.5h0M266.2 353.4h0M267.6 353.6h0M264.9 353.7h0M268.9 354.0h0M263.7 354.3h0M270.2 354.3h0M266.4 355.4h0M265.1 355.9h0M266.9 356.7h0M268.3 356.8h0M264.2 357.0h0M265.6 357.2h0M269.4 357.6h0M263.2 357.8h0M266.5 358.2h0M265.3 358.8h0M267.7 358.8h0M269.9 358.9h0M263.9 359.1h0M301.6 298.1h0M300.3 298.1h0M303.0 298.2h0M298.9 298.5h0M301.6 299.5h0M300.4 300.2h0M301.6 300.9h0M303.0 301.2h0M300.3 301.5h0M301.6 303.4h0M300.3 303.8h0M302.8 304.1h0M304.2 304.1h0M299.0 304.3h0M305.4 304.7h0M301.6 305.4h0M300.3 305.6h0M302.8 306.1h0M301.6 306.8h0M300.3 307.2h0M303.6 307.2h0M298.9 307.3h0M302.3 308.0h0M301.2 308.9h0M301.6 313.8h0M300.5 314.5h0M302.5 314.8h0M303.8 315.2h0M301.6 316.4h0M301.6 318.4h0M300.3 318.5h0M302.7 319.3h0M299.3 319.4h0M301.2 319.7h0M303.5 320.4h0M302.0 320.9h0M300.6 321.0h0M301.6 322.6h0M300.3 323.0h0M301.6 324.1h0M303.0 324.3h0M301.6 326.1h0M300.3 326.2h0M303.0 326.3h0M301.6 327.7h0M300.4 328.2h0M302.7 328.6h0M304.1 328.6h0M299.1 328.8h0M301.6 329.6h0M300.3 330.0h0M302.9 330.2h0M299.1 330.6h0M301.6 331.4h0M301.1 332.6h0M302.4 332.8h0M300.1 333.6h0M303.5 333.6h0M301.6 334.4h0M300.4 334.9h0M301.6 336.3h0M301.6 337.9h0M300.5 338.6h0M302.4 339.0h0M303.6 339.7h0M301.5 340.0h0M301.6 341.5h0M300.3 341.5h0M303.0 341.8h0M304.3 341.8h0M299.0 342.0h0M301.6 343.9h0M301.1 345.2h0M302.2 346.0h0M300.4 346.3h0M301.6 347.9h0M300.3 348.0h0M301.6 349.7h0M301.3 351.0h0M302.2 352.0h0M300.4 352.0h0M303.5 352.5h0M299.4 353.0h0M301.6 353.2h0M304.6 353.3h0M298.2 353.7h0M302.9 353.7h0M300.7 354.2h0M305.4 354.4h0M301.9 354.8h0M303.2 355.3h0M300.3 355.5h0M298.9 355.6h0M304.4 356.0h0M301.6 356.3h0M297.7 356.3h0M301.6 357.7h0" stroke="#13435f" stroke-width="1.45" stroke-linecap="round" fill="none"/>
<path d="M64.1 259.34V365.44H327.4" stroke="#222" stroke-width="1.33" fill="none" stroke-linejoin="miter"/>
<path d="M64.1 359.34h-4.7M64.1 332.84h-4.7M64.1 306.33h-4.7M64.1 279.83h-4.7M90.25 365.44v4.7M125.48 365.44v4.7M160.71 365.44v4.7M195.94 365.44v4.7M231.17 365.44v4.7M266.40 365.44v4.7M301.63 365.44v4.7" stroke="#222" stroke-width="1.2" fill="none"/>
<text x="55.2" y="364.44" font-size="13.7" fill="#222" stroke="#222" stroke-width="0.2" text-anchor="end" textLength="7.5" lengthAdjust="spacingAndGlyphs">0</text>
<text x="55.2" y="337.94" font-size="13.7" fill="#222" stroke="#222" stroke-width="0.2" text-anchor="end" textLength="22.4" lengthAdjust="spacingAndGlyphs">100</text>
<text x="55.2" y="311.43" font-size="13.7" fill="#222" stroke="#222" stroke-width="0.2" text-anchor="end" textLength="22.4" lengthAdjust="spacingAndGlyphs">200</text>
<text x="55.2" y="284.93" font-size="13.7" fill="#222" stroke="#222" stroke-width="0.2" text-anchor="end" textLength="22.4" lengthAdjust="spacingAndGlyphs">300</text>
<text transform="translate(10.1 312.99) rotate(-90)" font-size="13.15" fill="#222" stroke="#222" stroke-width="0.15" text-anchor="middle">Internet download</text>
<text transform="translate(25.3 312.99) rotate(-90)" font-size="13.15" fill="#222" stroke="#222" stroke-width="0.15" text-anchor="middle">speed (Mbps)</text>
<text x="68.7" y="269.09" font-size="15.2" font-weight="bold" fill="#000" textLength="57.5" lengthAdjust="spacingAndGlyphs">Manaus</text>
<text x="90.25" y="384.7" font-size="13.7" fill="#222" stroke="#222" stroke-width="0.2" text-anchor="middle" textLength="29.9" lengthAdjust="spacingAndGlyphs">2017</text>
<text x="125.48" y="384.7" font-size="13.7" fill="#222" stroke="#222" stroke-width="0.2" text-anchor="middle" textLength="29.9" lengthAdjust="spacingAndGlyphs">2018</text>
<text x="160.71" y="384.7" font-size="13.7" fill="#222" stroke="#222" stroke-width="0.2" text-anchor="middle" textLength="29.9" lengthAdjust="spacingAndGlyphs">2019</text>
<text x="195.94" y="384.7" font-size="13.7" fill="#222" stroke="#222" stroke-width="0.2" text-anchor="middle" textLength="29.9" lengthAdjust="spacingAndGlyphs">2020</text>
<text x="231.17" y="384.7" font-size="13.7" fill="#222" stroke="#222" stroke-width="0.2" text-anchor="middle" textLength="29.9" lengthAdjust="spacingAndGlyphs">2021</text>
<text x="266.40" y="384.7" font-size="13.7" fill="#222" stroke="#222" stroke-width="0.2" text-anchor="middle" textLength="29.9" lengthAdjust="spacingAndGlyphs">2022</text>
<text x="301.63" y="384.7" font-size="13.7" fill="#222" stroke="#222" stroke-width="0.2" text-anchor="middle" textLength="29.9" lengthAdjust="spacingAndGlyphs">2023</text>
<path d="M327.4 259.34V365.94M327.4 347.22h4.7M327.4 318.38h4.7M327.4 289.55h4.7M327.4 260.71h4.7" stroke="#ffa10a" stroke-width="1.2" fill="none"/>
<text x="336.6" y="352.07" font-size="13.7" fill="#ffa10a" stroke="#ffa10a" stroke-width="0.2" textLength="18.4" lengthAdjust="spacingAndGlyphs">0.5</text>
<text x="336.6" y="323.23" font-size="13.7" fill="#ffa10a" stroke="#ffa10a" stroke-width="0.2" textLength="18.4" lengthAdjust="spacingAndGlyphs">1.0</text>
<text x="336.6" y="294.40" font-size="13.7" fill="#ffa10a" stroke="#ffa10a" stroke-width="0.2" textLength="18.4" lengthAdjust="spacingAndGlyphs">1.5</text>
<text x="336.6" y="265.56" font-size="13.7" fill="#ffa10a" stroke="#ffa10a" stroke-width="0.2" textLength="18.4" lengthAdjust="spacingAndGlyphs">2.0</text>
<polyline points="90.25,332.24 125.48,324.74 160.71,324.74 195.94,333.74 231.17,341.84 266.40,334.34 301.63,342.74" stroke="#ffa10a" stroke-width="2" fill="none" stroke-linejoin="round" stroke-linecap="butt"/>
</g>
<g>
<path d="M380.2 359.34H643.4M380.2 332.84H643.4M380.2 306.33H643.4M380.2 279.83H643.4" stroke="#c9c9c9" stroke-width="0.8" stroke-dasharray="1.1 1.0" fill="none"/>
<path d="M392.25 352.29H420.45V358.30H392.25ZM427.48 346.38H455.68V356.18H427.48ZM462.71 344.27H490.91V356.18H462.71ZM497.94 333.81H526.14V354.70H497.94ZM533.17 308.53H561.37V346.65H533.17ZM568.40 323.96H596.60V354.70H568.40ZM603.63 312.05H631.83V351.15H603.63Z" fill="#89b2cb" stroke="#6c6c6c" stroke-width="1.25"/>
<path d="M406.35 352.29V347.18M406.35 358.30V359.09M441.58 346.38V333.81M441.58 356.18V358.83M476.81 344.27V327.86M476.81 356.18V358.83M512.04 333.81V306.41M512.04 354.70V358.83M547.27 308.53V261.42M547.27 346.65V359.09M582.50 323.96V278.62M582.50 354.70V359.09M617.73 312.05V260.89M617.73 351.15V359.09" stroke="#2a2f33" stroke-width="1.1" fill="none"/>
<path d="M392.75 356.18H419.95M427.98 354.06H455.18M463.21 351.68H490.41M498.44 342.76H525.64M533.67 333.23H560.87M568.90 341.88H596.10M604.13 331.72H631.33" stroke="#fff" stroke-width="2.2" fill="none"/>
<path d="M406.3 305.4h0M406.3 313.8h0M406.3 332.4h0M406.3 338.2h0M406.3 342.7h0M406.3 347.2h0M405.0 347.4h0M407.7 347.5h0M403.9 348.2h0M405.9 348.4h0M406.8 349.4h0M405.2 349.6h0M408.2 349.8h0M404.0 350.2h0M409.4 350.4h0M402.7 350.6h0M406.3 350.7h0M410.7 350.7h0M401.3 350.9h0M412.1 351.0h0M405.1 351.2h0M407.3 351.8h0M408.6 352.0h0M403.9 352.0h0M406.0 352.2h0M410.0 352.2h0M402.6 352.2h0M411.3 352.2h0M401.2 352.2h0M412.7 352.3h0M399.8 352.3h0M414.1 352.3h0M398.5 352.3h0M415.5 352.3h0M397.1 352.3h0M416.8 352.8h0M395.8 352.8h0M418.1 352.9h0M407.0 353.1h0M405.2 353.3h0M408.3 353.6h0M403.9 353.7h0M409.6 354.0h0M402.5 354.0h0M411.0 354.1h0M401.2 354.2h0M406.2 354.2h0M412.3 354.5h0M404.9 354.7h0M399.9 354.7h0M407.5 354.7h0M413.6 354.8h0M398.5 354.8h0M403.6 355.1h0M408.7 355.3h0M405.9 355.6h0M410.1 355.7h0M402.4 355.7h0M411.4 355.9h0M401.0 356.0h0M404.6 356.1h0M412.8 356.1h0M407.2 356.1h0M399.7 356.1h0M414.2 356.2h0M398.3 356.2h0M415.5 356.2h0M396.9 356.5h0M416.9 356.5h0M395.5 356.5h0M418.3 356.5h0M394.2 356.6h0M408.4 356.7h0M403.4 356.7h0M419.6 356.8h0M406.2 357.1h0M409.7 357.1h0M402.2 357.2h0M411.1 357.3h0M400.6 357.3h0M413.3 357.3h0M404.9 357.4h0M399.3 357.5h0M407.4 357.7h0M414.6 357.8h0M397.9 357.9h0M415.9 357.9h0M396.6 357.9h0M417.3 358.0h0M395.2 358.0h0M408.8 358.1h0M403.7 358.1h0M412.1 358.2h0M418.6 358.3h0M393.8 358.3h0M417.8 358.3h0M410.2 358.3h0M401.5 358.3h0M405.9 358.4h0M410.0 358.4h0M417.5 358.4h0M400.0 358.5h0M397.1 358.5h0M393.5 358.5h0M413.2 358.5h0M395.8 358.5h0M400.1 358.6h0M418.9 358.6h0M413.5 358.7h0M411.9 358.7h0M398.0 358.8h0M414.5 358.8h0M397.4 358.9h0M406.7 358.9h0M395.9 358.9h0M414.0 358.9h0M416.7 358.9h0M417.4 358.9h0M398.8 358.9h0M402.7 359.0h0M415.1 359.0h0M393.1 359.0h0M407.1 359.0h0M404.7 359.1h0M397.3 359.1h0M415.7 359.1h0M441.6 294.2h0M441.6 301.1h0M441.6 321.5h0M441.6 329.4h0M441.6 333.8h0M440.3 334.2h0M442.2 335.0h0M443.6 335.1h0M441.3 336.0h0M442.4 336.8h0M440.4 337.0h0M441.6 341.0h0M440.2 341.2h0M442.7 341.8h0M439.4 342.2h0M441.0 342.3h0M444.0 342.3h0M438.2 342.9h0M441.9 343.3h0M441.2 344.4h0M442.7 344.4h0M439.8 344.5h0M443.7 345.3h0M438.9 345.5h0M441.6 345.8h0M440.2 346.0h0M444.8 346.1h0M437.7 346.2h0M446.2 346.2h0M436.3 346.3h0M447.6 346.3h0M435.0 346.3h0M442.8 346.4h0M449.0 346.4h0M433.6 346.4h0M450.3 346.6h0M441.2 347.1h0M439.5 347.2h0M443.6 347.5h0M438.2 347.5h0M442.2 348.0h0M444.8 348.1h0M440.9 348.4h0M439.5 348.5h0M437.4 348.6h0M446.1 348.7h0M436.0 348.8h0M442.8 349.2h0M441.5 349.6h0M442.4 350.7h0M441.2 351.4h0M439.9 351.4h0M443.4 351.6h0M438.7 352.1h0M444.6 352.3h0M437.3 352.3h0M442.1 352.5h0M440.7 352.6h0M445.9 352.8h0M436.0 352.8h0M447.2 352.9h0M442.7 353.7h0M439.8 353.7h0M441.4 354.0h0M444.0 354.1h0M438.5 354.2h0M445.4 354.3h0M437.2 354.4h0M446.8 354.4h0M435.8 354.5h0M448.1 354.8h0M434.5 354.9h0M442.3 355.0h0M440.5 355.1h0M449.4 355.1h0M433.2 355.2h0M443.6 355.4h0M439.2 355.4h0M450.8 355.4h0M431.8 355.5h0M445.0 355.6h0M437.8 355.6h0M452.1 355.6h0M430.4 355.7h0M436.5 355.7h0M446.4 355.7h0M453.5 355.8h0M429.1 355.9h0M454.9 355.9h0M435.1 355.9h0M429.0 356.0h0M446.7 356.0h0M441.5 356.1h0M447.7 356.1h0M435.2 356.2h0M433.8 356.2h0M435.2 356.3h0M440.2 356.4h0M449.0 356.4h0M442.8 356.4h0M433.8 356.5h0M453.9 356.5h0M444.1 356.7h0M438.9 356.9h0M445.5 357.1h0M437.6 357.2h0M446.8 357.3h0M441.8 357.4h0M436.2 357.5h0M448.2 357.6h0M434.8 357.6h0M449.6 357.6h0M440.4 357.8h0M443.1 357.8h0M433.5 357.9h0M444.4 358.1h0M450.9 358.2h0M439.2 358.3h0M432.2 358.3h0M452.2 358.4h0M445.9 358.4h0M430.8 358.4h0M453.6 358.4h0M441.6 358.8h0M437.9 358.8h0M476.8 292.1h0M476.8 308.0h0M476.8 315.9h0M476.8 324.9h0M476.8 327.9h0M476.8 329.6h0M475.7 330.5h0M477.5 330.8h0M478.8 331.3h0M476.8 333.5h0M475.4 333.7h0M478.1 333.9h0M476.8 337.5h0M475.5 337.8h0M476.8 341.3h0M475.4 341.5h0M478.1 341.9h0M476.2 342.6h0M474.8 342.7h0M479.1 342.7h0M473.4 342.9h0M477.3 343.5h0M480.1 343.7h0M476.0 344.0h0M478.5 344.0h0M474.6 344.1h0M472.9 344.1h0M481.4 344.2h0M471.5 344.2h0M482.7 344.2h0M470.2 344.3h0M484.1 344.3h0M468.8 344.3h0M485.5 344.3h0M476.8 345.5h0M475.5 345.8h0M478.0 346.2h0M479.4 346.4h0M476.8 346.9h0M475.5 347.3h0M478.1 347.5h0M476.8 348.5h0M475.5 348.8h0M478.1 348.9h0M479.5 349.0h0M474.1 349.1h0M480.8 349.5h0M472.8 349.6h0M482.1 349.7h0M471.5 349.7h0M476.8 350.2h0M475.5 350.5h0M478.1 350.6h0M479.5 350.6h0M474.1 350.6h0M483.1 350.6h0M481.2 350.8h0M472.7 350.9h0M471.4 351.2h0M470.0 351.2h0M484.3 351.3h0M468.7 351.3h0M476.4 351.5h0M485.6 351.6h0M475.0 351.7h0M478.7 351.8h0M473.7 352.1h0M480.0 352.2h0M477.5 352.4h0M472.4 352.4h0M481.4 352.5h0M471.0 352.5h0M482.7 352.6h0M469.6 352.7h0M476.1 352.8h0M484.1 352.9h0M468.3 353.0h0M474.8 353.1h0M478.3 353.5h0M479.7 353.6h0M476.8 354.4h0M475.4 354.5h0M478.8 354.7h0M474.1 354.8h0M480.3 354.8h0M472.7 354.8h0M481.6 355.0h0M471.4 355.3h0M483.0 355.4h0M477.5 355.6h0M470.1 355.6h0M476.1 355.8h0M474.8 356.0h0M478.7 356.1h0M480.1 356.2h0M473.4 356.3h0M482.0 356.3h0M483.9 356.4h0M469.0 356.4h0M485.3 356.4h0M467.6 356.5h0M472.1 356.6h0M486.7 356.6h0M476.9 356.9h0M470.7 357.0h0M466.4 357.0h0M488.0 357.1h0M475.5 357.1h0M481.0 357.3h0M478.2 357.4h0M474.2 357.5h0M479.5 357.7h0M472.9 357.8h0M482.2 357.9h0M483.6 357.9h0M469.8 358.0h0M484.9 358.0h0M468.5 358.0h0M471.5 358.1h0M476.6 358.2h0M486.3 358.4h0M467.1 358.4h0M475.3 358.6h0M477.8 358.7h0M473.9 358.8h0M512.0 266.7h0M512.0 280.7h0M512.0 293.7h0M512.0 306.4h0M512.0 309.0h0M510.7 309.4h0M512.0 310.9h0M512.0 312.8h0M511.2 313.9h0M512.7 314.0h0M512.0 315.7h0M511.7 317.1h0M512.0 319.4h0M510.7 319.7h0M512.0 324.7h0M511.6 326.0h0M512.9 326.2h0M512.0 328.3h0M510.7 328.7h0M512.0 329.7h0M510.7 330.1h0M512.0 331.8h0M510.7 332.0h0M512.0 333.1h0M513.4 333.2h0M510.7 333.4h0M514.7 333.6h0M509.3 333.6h0M516.1 333.8h0M508.0 333.8h0M517.5 333.8h0M506.6 333.8h0M518.8 333.8h0M505.3 334.3h0M520.1 334.3h0M512.0 335.1h0M510.7 335.1h0M513.4 335.4h0M509.5 335.8h0M512.0 337.0h0M510.8 337.5h0M512.9 338.1h0M514.2 338.3h0M509.7 338.3h0M515.6 338.5h0M511.8 338.9h0M513.0 339.6h0M510.6 339.6h0M514.3 340.0h0M511.8 340.3h0M512.9 341.1h0M510.9 341.2h0M514.3 341.4h0M509.5 341.4h0M515.5 341.9h0M508.2 341.9h0M516.9 342.0h0M511.9 342.1h0M506.9 342.1h0M518.3 342.2h0M513.2 342.5h0M510.7 342.7h0M509.3 342.8h0M514.5 343.0h0M515.8 343.4h0M512.0 344.8h0M510.8 345.5h0M513.2 345.6h0M514.5 345.8h0M509.5 345.8h0M515.9 345.9h0M508.1 346.0h0M512.0 347.1h0M510.7 347.3h0M513.0 348.0h0M514.4 348.1h0M511.7 348.4h0M510.3 348.7h0M509.0 348.9h0M515.3 349.1h0M513.5 349.3h0M512.0 350.1h0M510.7 350.5h0M513.0 351.1h0M514.4 351.2h0M512.0 352.0h0M513.0 352.9h0M512.0 354.0h0M510.7 354.1h0M513.5 354.1h0M509.3 354.3h0M514.8 354.6h0M508.0 354.7h0M516.2 354.7h0M506.6 354.8h0M517.5 355.0h0M505.3 355.2h0M511.5 355.3h0M512.9 355.4h0M510.2 355.4h0M518.8 355.5h0M504.0 355.6h0M520.2 355.7h0M514.0 356.2h0M509.0 356.2h0M512.0 356.6h0M515.3 356.7h0M510.7 356.8h0M507.8 356.8h0M516.7 356.9h0M506.5 357.2h0M518.0 357.2h0M513.2 357.4h0M505.1 357.4h0M519.4 357.4h0M509.7 357.8h0M503.8 357.8h0M512.0 358.0h0M514.3 358.2h0M508.5 358.4h0M515.6 358.4h0M507.2 358.6h0M510.8 358.8h0M516.9 358.8h0M547.3 261.4h0M547.3 269.1h0M547.3 279.7h0M547.3 294.5h0M547.3 297.3h0M545.9 297.3h0M548.6 297.4h0M544.5 297.5h0M547.3 298.9h0M545.9 299.1h0M548.6 299.2h0M544.6 299.5h0M549.7 300.1h0M547.3 300.6h0M546.2 301.5h0M548.3 301.6h0M549.6 301.9h0M544.9 302.0h0M547.2 302.5h0M548.4 303.1h0M547.3 304.2h0M546.0 304.8h0M547.9 305.4h0M547.1 306.5h0M548.4 306.7h0M545.7 306.8h0M549.8 306.8h0M544.4 307.2h0M551.1 307.2h0M543.1 307.3h0M552.5 307.6h0M541.8 307.7h0M547.3 308.0h0M548.6 308.1h0M553.7 308.1h0M545.9 308.4h0M549.7 308.9h0M547.3 309.5h0M546.5 310.6h0M547.3 315.0h0M547.3 316.9h0M545.9 317.0h0M548.5 317.4h0M544.8 317.8h0M549.8 317.8h0M547.3 319.8h0M547.3 322.3h0M545.9 322.6h0M547.3 323.7h0M547.3 325.3h0M547.3 327.3h0M545.9 327.6h0M547.3 328.7h0M548.6 328.8h0M545.5 328.9h0M550.0 329.0h0M544.3 329.6h0M547.3 330.2h0M546.0 330.7h0M548.5 330.9h0M549.8 331.2h0M547.3 331.8h0M545.9 332.1h0M548.6 332.2h0M544.6 332.4h0M549.9 332.7h0M547.0 333.1h0M543.4 333.1h0M551.2 333.2h0M542.0 333.2h0M548.3 333.6h0M545.9 333.9h0M547.3 334.6h0M546.2 335.5h0M547.8 335.8h0M549.2 336.0h0M545.2 336.3h0M547.3 337.2h0M548.6 337.3h0M546.0 337.8h0M547.3 338.5h0M548.6 338.7h0M546.1 339.2h0M549.8 339.4h0M544.8 339.6h0M547.3 340.2h0M546.7 341.4h0M548.1 341.5h0M545.3 341.6h0M549.4 341.7h0M544.1 342.1h0M550.7 342.2h0M547.3 342.7h0M545.9 343.0h0M548.6 343.0h0M544.8 343.8h0M549.7 343.8h0M547.3 344.5h0M545.9 344.6h0M548.6 344.8h0M544.6 345.1h0M547.3 346.0h0M545.9 346.2h0M548.6 346.2h0M547.3 347.4h0M547.3 349.2h0M546.4 350.3h0M547.5 351.1h0M545.8 351.5h0M548.7 351.6h0M550.1 351.7h0M544.5 351.8h0M543.1 351.8h0M551.5 351.9h0M541.7 352.1h0M547.3 353.4h0M545.9 353.5h0M548.5 353.9h0M544.7 354.2h0M549.7 354.6h0M546.7 354.6h0M543.7 355.1h0M547.3 356.0h0M545.9 356.2h0M548.6 356.4h0M550.0 356.5h0M544.6 356.5h0M551.4 356.5h0M543.2 356.8h0M552.6 357.0h0M541.9 357.0h0M554.0 357.3h0M547.3 357.4h0M545.5 357.5h0M548.3 358.3h0M547.0 358.8h0M545.0 358.8h0M549.6 358.8h0M543.7 359.1h0M582.5 278.6h0M582.5 285.8h0M582.5 288.5h0M581.2 289.0h0M582.5 293.1h0M582.5 295.8h0M581.3 296.4h0M583.4 296.8h0M582.5 298.7h0M581.1 298.8h0M583.8 299.2h0M582.5 302.4h0M581.8 303.6h0M583.0 304.2h0M582.5 311.0h0M582.5 312.4h0M582.5 316.6h0M582.5 318.2h0M581.9 319.5h0M583.3 319.7h0M580.9 320.3h0M584.5 320.4h0M579.5 320.6h0M582.5 320.8h0M583.3 321.8h0M581.9 322.0h0M580.5 322.2h0M584.1 322.9h0M585.5 323.0h0M582.7 323.1h0M581.3 323.4h0M580.0 323.5h0M578.6 323.7h0M586.4 324.0h0M582.5 324.6h0M581.1 324.8h0M583.8 325.0h0M582.5 326.2h0M581.2 326.4h0M582.5 327.8h0M582.5 329.1h0M581.1 329.2h0M583.9 329.2h0M579.9 329.8h0M584.7 330.3h0M582.5 332.6h0M582.5 334.0h0M581.7 335.1h0M583.1 335.3h0M584.4 335.8h0M580.7 336.0h0M582.5 336.5h0M581.5 337.5h0M582.6 338.3h0M584.0 338.3h0M581.1 338.8h0M585.2 339.0h0M582.5 340.0h0M583.9 340.1h0M581.1 340.2h0M585.2 340.6h0M579.9 340.7h0M578.5 340.8h0M586.5 340.9h0M577.1 341.1h0M587.9 341.1h0M582.0 341.3h0M583.4 341.5h0M581.5 342.5h0M582.8 343.0h0M584.1 343.1h0M580.6 343.6h0M585.4 343.6h0M579.2 343.9h0M582.5 345.2h0M581.2 345.6h0M583.6 345.9h0M585.0 346.2h0M580.1 346.5h0M582.5 347.0h0M586.0 347.1h0M581.2 347.3h0M583.4 348.1h0M584.7 348.2h0M580.2 348.3h0M582.0 348.5h0M586.1 348.5h0M579.0 349.0h0M587.3 349.1h0M582.5 350.2h0M581.1 350.2h0M583.9 350.4h0M579.9 350.8h0M584.9 351.3h0M581.8 351.4h0M583.1 351.8h0M580.6 352.0h0M579.2 352.1h0M582.5 353.6h0M581.1 353.9h0M583.8 353.9h0M579.9 354.5h0M582.5 355.2h0M581.1 355.4h0M583.9 355.5h0M585.2 355.7h0M579.9 355.9h0M578.5 356.1h0M586.5 356.1h0M577.1 356.4h0M587.9 356.4h0M575.8 356.5h0M582.0 356.5h0M589.2 356.7h0M583.3 356.8h0M574.5 356.9h0M590.6 356.9h0M573.1 356.9h0M581.0 357.5h0M584.4 357.6h0M579.7 357.6h0M582.5 358.0h0M585.8 358.0h0M578.4 358.1h0M587.1 358.1h0M577.0 358.2h0M588.5 358.3h0M575.6 358.3h0M589.9 358.3h0M574.2 358.5h0M591.2 358.5h0M572.9 358.6h0M581.4 358.8h0M583.6 358.8h0M592.5 358.9h0M580.0 359.0h0M584.9 359.1h0M617.7 260.9h0M617.7 292.9h0M617.2 294.1h0M618.5 294.2h0M616.0 294.8h0M619.6 295.1h0M617.7 295.4h0M614.9 295.7h0M620.8 295.7h0M617.0 296.6h0M617.7 298.3h0M616.4 298.5h0M618.5 299.4h0M617.3 300.1h0M617.7 301.6h0M616.7 302.5h0M617.9 303.1h0M616.8 304.0h0M618.9 304.0h0M615.5 304.2h0M620.2 304.3h0M617.7 305.1h0M614.6 305.2h0M616.4 305.3h0M617.7 306.8h0M617.0 307.9h0M618.2 308.4h0M616.0 308.9h0M617.7 310.2h0M616.4 310.5h0M619.1 310.6h0M615.1 311.0h0M620.4 311.0h0M617.7 312.0h0M616.4 312.2h0M618.5 313.1h0M617.3 313.8h0M619.3 314.2h0M618.0 315.0h0M616.7 315.1h0M617.7 316.3h0M616.4 316.5h0M618.9 317.0h0M615.2 317.3h0M617.7 318.3h0M616.5 318.9h0M618.8 319.1h0M620.2 319.4h0M617.7 320.1h0M617.7 321.8h0M617.7 323.2h0M616.4 323.3h0M618.8 324.1h0M617.7 325.1h0M616.4 325.1h0M619.6 325.2h0M615.0 325.4h0M618.6 326.1h0M617.3 326.4h0M615.9 326.5h0M619.9 326.6h0M617.7 328.9h0M616.4 329.0h0M619.1 329.2h0M615.0 329.3h0M617.7 330.4h0M616.4 330.8h0M618.6 331.5h0M617.6 332.4h0M618.6 333.4h0M616.8 333.5h0M619.7 334.2h0M615.7 334.3h0M617.7 336.3h0M616.4 336.6h0M619.0 336.8h0M615.2 337.3h0M617.7 338.5h0M616.4 338.5h0M619.1 338.8h0M615.1 339.1h0M620.4 339.1h0M617.7 340.3h0M616.8 341.3h0M618.5 341.4h0M619.8 341.6h0M617.7 343.0h0M616.4 343.5h0M618.9 343.8h0M617.7 344.6h0M617.7 346.4h0M616.4 346.6h0M618.8 347.3h0M620.2 347.3h0M615.4 347.6h0M617.2 347.7h0M617.8 348.9h0M616.4 348.9h0M619.2 348.9h0M615.1 349.3h0M620.5 349.4h0M617.7 350.3h0M617.7 352.4h0M616.6 353.3h0M618.5 353.5h0M619.9 353.6h0M617.5 354.4h0M616.1 354.6h0M614.8 354.6h0M618.6 355.3h0M619.9 355.3h0M621.3 355.4h0M613.8 355.6h0M622.7 355.6h0M617.3 355.8h0M618.4 356.6h0M617.1 357.2h0M619.6 357.3h0M615.8 357.3h0M621.0 357.4h0M614.4 357.7h0M622.3 357.8h0M613.1 357.9h0M623.7 357.9h0M618.1 358.1h0M611.7 358.2h0M625.0 358.2h0M610.4 358.3h0M626.4 358.3h0M609.0 358.3h0M616.8 358.5h0M620.1 358.5h0M627.7 358.7h0M615.4 358.7h0M607.7 358.8h0M621.4 359.0h0M614.1 359.1h0" stroke="#13435f" stroke-width="1.45" stroke-linecap="round" fill="none"/>
<path d="M380.2 259.34V365.44H643.4" stroke="#222" stroke-width="1.33" fill="none" stroke-linejoin="miter"/>
<path d="M380.2 359.34h-4.7M380.2 332.84h-4.7M380.2 306.33h-4.7M380.2 279.83h-4.7M406.35 365.44v4.7M441.58 365.44v4.7M476.81 365.44v4.7M512.04 365.44v4.7M547.27 365.44v4.7M582.50 365.44v4.7M617.73 365.44v4.7" stroke="#222" stroke-width="1.2" fill="none"/>
<text x="384.8" y="269.09" font-size="15.2" font-weight="bold" fill="#000" textLength="53.6" lengthAdjust="spacingAndGlyphs">Brasilia</text>
<text x="406.35" y="384.7" font-size="13.7" fill="#222" stroke="#222" stroke-width="0.2" text-anchor="middle" textLength="29.9" lengthAdjust="spacingAndGlyphs">2017</text>
<text x="441.58" y="384.7" font-size="13.7" fill="#222" stroke="#222" stroke-width="0.2" text-anchor="middle" textLength="29.9" lengthAdjust="spacingAndGlyphs">2018</text>
<text x="476.81" y="384.7" font-size="13.7" fill="#222" stroke="#222" stroke-width="0.2" text-anchor="middle" textLength="29.9" lengthAdjust="spacingAndGlyphs">2019</text>
<text x="512.04" y="384.7" font-size="13.7" fill="#222" stroke="#222" stroke-width="0.2" text-anchor="middle" textLength="29.9" lengthAdjust="spacingAndGlyphs">2020</text>
<text x="547.27" y="384.7" font-size="13.7" fill="#222" stroke="#222" stroke-width="0.2" text-anchor="middle" textLength="29.9" lengthAdjust="spacingAndGlyphs">2021</text>
<text x="582.50" y="384.7" font-size="13.7" fill="#222" stroke="#222" stroke-width="0.2" text-anchor="middle" textLength="29.9" lengthAdjust="spacingAndGlyphs">2022</text>
<text x="617.73" y="384.7" font-size="13.7" fill="#222" stroke="#222" stroke-width="0.2" text-anchor="middle" textLength="29.9" lengthAdjust="spacingAndGlyphs">2023</text>
<path d="M643.4 259.34V365.94M643.4 347.22h4.7M643.4 318.38h4.7M643.4 289.55h4.7M643.4 260.71h4.7" stroke="#ffa10a" stroke-width="1.2" fill="none"/>
<text x="652.6" y="352.07" font-size="13.7" fill="#ffa10a" stroke="#ffa10a" stroke-width="0.2" textLength="18.4" lengthAdjust="spacingAndGlyphs">0.5</text>
<text x="652.6" y="323.23" font-size="13.7" fill="#ffa10a" stroke="#ffa10a" stroke-width="0.2" textLength="18.4" lengthAdjust="spacingAndGlyphs">1.0</text>
<text x="652.6" y="294.40" font-size="13.7" fill="#ffa10a" stroke="#ffa10a" stroke-width="0.2" textLength="18.4" lengthAdjust="spacingAndGlyphs">1.5</text>
<text x="652.6" y="265.56" font-size="13.7" fill="#ffa10a" stroke="#ffa10a" stroke-width="0.2" textLength="18.4" lengthAdjust="spacingAndGlyphs">2.0</text>
<text transform="translate(684.8 312.74) rotate(-90)" font-size="12" fill="#ffa10a" stroke="#ffa10a" stroke-width="0.1" text-anchor="middle">Coefficient of Variation</text>
<polyline points="406.35,296.44 441.58,309.84 476.81,314.34 512.04,320.34 547.27,325.34 582.50,324.14 617.73,330.14" stroke="#ffa10a" stroke-width="2" fill="none" stroke-linejoin="round" stroke-linecap="butt"/>
</g>
</svg>
</body></html>
